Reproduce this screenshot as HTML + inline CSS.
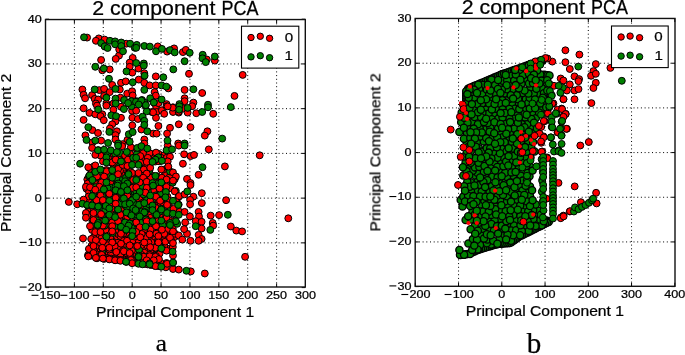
<!DOCTYPE html>
<html><head><meta charset="utf-8"><style>
html,body{margin:0;padding:0;background:#fff;overflow:hidden;}
svg{display:block;}
text{font-family:'Liberation Sans', sans-serif;fill:#000;stroke:#000;stroke-width:0.25px;}
.grid{stroke:#000;stroke-width:1;stroke-dasharray:1 2.7;}
.tick{stroke:#000;stroke-width:1;}
.spine{fill:none;stroke:#111;stroke-width:1.4;}
</style></head><body>
<svg width="685" height="355" viewBox="0 0 685 355">
<defs><filter id="gs" x="-10%" y="-30%" width="120%" height="160%"><feColorMatrix type="saturate" values="0"/></filter></defs>
<rect width="685" height="355" fill="#fff"/>
<line x1="74.39" y1="287.0" x2="74.39" y2="19.55" class="grid"/>
<line x1="103.28" y1="287.0" x2="103.28" y2="19.55" class="grid"/>
<line x1="132.17" y1="287.0" x2="132.17" y2="19.55" class="grid"/>
<line x1="161.06" y1="287.0" x2="161.06" y2="19.55" class="grid"/>
<line x1="189.94" y1="287.0" x2="189.94" y2="19.55" class="grid"/>
<line x1="218.83" y1="287.0" x2="218.83" y2="19.55" class="grid"/>
<line x1="247.72" y1="287.0" x2="247.72" y2="19.55" class="grid"/>
<line x1="276.61" y1="287.0" x2="276.61" y2="19.55" class="grid"/>
<line x1="45.5" y1="242.87" x2="305.3" y2="242.87" class="grid"/>
<line x1="45.5" y1="198.13" x2="305.3" y2="198.13" class="grid"/>
<line x1="45.5" y1="153.40" x2="305.3" y2="153.40" class="grid"/>
<line x1="45.5" y1="108.67" x2="305.3" y2="108.67" class="grid"/>
<line x1="45.5" y1="63.93" x2="305.3" y2="63.93" class="grid"/>
<g stroke="#000" stroke-width="1.0"><circle cx="148.7" cy="249.8" r="3.45" fill="#ff0000"/>
<circle cx="142.8" cy="242.5" r="3.45" fill="#ff0000"/>
<circle cx="166.2" cy="224.8" r="3.45" fill="#ff0000"/>
<circle cx="125.4" cy="236.0" r="3.45" fill="#ff0000"/>
<circle cx="91.7" cy="245.5" r="3.45" fill="#ff0000"/>
<circle cx="158.6" cy="153.9" r="3.45" fill="#ff0000"/>
<circle cx="154.9" cy="237.4" r="3.45" fill="#ff0000"/>
<circle cx="136.3" cy="176.1" r="3.45" fill="#ff0000"/>
<circle cx="98.2" cy="253.3" r="3.45" fill="#ff0000"/>
<circle cx="117.0" cy="240.1" r="3.45" fill="#ff0000"/>
<circle cx="110.6" cy="195.4" r="3.45" fill="#ff0000"/>
<circle cx="120.2" cy="163.4" r="3.45" fill="#ff0000"/>
<circle cx="116.9" cy="236.3" r="3.45" fill="#ff0000"/>
<circle cx="141.2" cy="262.3" r="3.45" fill="#ff0000"/>
<circle cx="117.2" cy="254.0" r="3.45" fill="#ff0000"/>
<circle cx="102.7" cy="250.7" r="3.45" fill="#ff0000"/>
<circle cx="164.8" cy="246.9" r="3.45" fill="#ff0000"/>
<circle cx="154.8" cy="255.5" r="3.45" fill="#ff0000"/>
<circle cx="148.6" cy="183.6" r="3.45" fill="#ff0000"/>
<circle cx="86.5" cy="188.8" r="3.45" fill="#ff0000"/>
<circle cx="114.9" cy="257.8" r="3.45" fill="#ff0000"/>
<circle cx="144.2" cy="203.6" r="3.45" fill="#ff0000"/>
<circle cx="138.2" cy="200.8" r="3.45" fill="#ff0000"/>
<circle cx="164.5" cy="212.1" r="3.45" fill="#ff0000"/>
<circle cx="95.6" cy="178.6" r="3.45" fill="#ff0000"/>
<circle cx="98.1" cy="232.9" r="3.45" fill="#ff0000"/>
<circle cx="125.6" cy="245.8" r="3.45" fill="#ff0000"/>
<circle cx="128.4" cy="258.8" r="3.45" fill="#ff0000"/>
<circle cx="158.6" cy="178.4" r="3.45" fill="#ff0000"/>
<circle cx="105.0" cy="221.9" r="3.45" fill="#ff0000"/>
<circle cx="92.1" cy="230.0" r="3.45" fill="#ff0000"/>
<circle cx="156.1" cy="190.9" r="3.45" fill="#ff0000"/>
<circle cx="127.0" cy="233.6" r="3.45" fill="#ff0000"/>
<circle cx="163.9" cy="230.0" r="3.45" fill="#ff0000"/>
<circle cx="135.5" cy="246.7" r="3.45" fill="#ff0000"/>
<circle cx="118.2" cy="234.2" r="3.45" fill="#ff0000"/>
<circle cx="150.2" cy="246.6" r="3.45" fill="#ff0000"/>
<circle cx="158.9" cy="203.3" r="3.45" fill="#ff0000"/>
<circle cx="149.0" cy="162.8" r="3.45" fill="#ff0000"/>
<circle cx="143.4" cy="259.1" r="3.45" fill="#ff0000"/>
<circle cx="112.6" cy="242.6" r="3.45" fill="#ff0000"/>
<circle cx="97.1" cy="237.6" r="3.45" fill="#ff0000"/>
<circle cx="114.6" cy="171.6" r="3.45" fill="#ff0000"/>
<circle cx="150.6" cy="159.9" r="3.45" fill="#ff0000"/>
<circle cx="144.2" cy="245.8" r="3.45" fill="#ff0000"/>
<circle cx="109.2" cy="224.6" r="3.45" fill="#ff0000"/>
<circle cx="154.2" cy="205.3" r="3.45" fill="#ff0000"/>
<circle cx="174.7" cy="179.3" r="3.45" fill="#ff0000"/>
<circle cx="161.9" cy="240.9" r="3.45" fill="#ff0000"/>
<circle cx="136.9" cy="209.0" r="3.45" fill="#ff0000"/>
<circle cx="152.6" cy="233.7" r="3.45" fill="#ff0000"/>
<circle cx="105.6" cy="159.8" r="3.45" fill="#ff0000"/>
<circle cx="101.0" cy="230.5" r="3.45" fill="#ff0000"/>
<circle cx="159.6" cy="253.5" r="3.45" fill="#ff0000"/>
<circle cx="110.6" cy="204.5" r="3.45" fill="#ff0000"/>
<circle cx="100.1" cy="248.7" r="3.45" fill="#ff0000"/>
<circle cx="113.5" cy="165.3" r="3.45" fill="#ff0000"/>
<circle cx="106.5" cy="170.0" r="3.45" fill="#ff0000"/>
<circle cx="119.4" cy="157.2" r="3.45" fill="#ff0000"/>
<circle cx="130.3" cy="238.0" r="3.45" fill="#ff0000"/>
<circle cx="138.6" cy="240.6" r="3.45" fill="#ff0000"/>
<circle cx="164.5" cy="238.4" r="3.45" fill="#ff0000"/>
<circle cx="111.9" cy="180.1" r="3.45" fill="#ff0000"/>
<circle cx="124.4" cy="212.1" r="3.45" fill="#ff0000"/>
<circle cx="148.6" cy="238.3" r="3.45" fill="#ff0000"/>
<circle cx="170.3" cy="220.7" r="3.45" fill="#ff0000"/>
<circle cx="88.7" cy="200.9" r="3.45" fill="#ff0000"/>
<circle cx="143.0" cy="198.9" r="3.45" fill="#ff0000"/>
<circle cx="123.3" cy="233.7" r="3.45" fill="#ff0000"/>
<circle cx="117.0" cy="229.7" r="3.45" fill="#ff0000"/>
<circle cx="130.3" cy="163.0" r="3.45" fill="#ff0000"/>
<circle cx="108.8" cy="193.1" r="3.45" fill="#ff0000"/>
<circle cx="152.2" cy="258.2" r="3.45" fill="#ff0000"/>
<circle cx="89.7" cy="168.3" r="3.45" fill="#ff0000"/>
<circle cx="151.4" cy="225.6" r="3.45" fill="#ff0000"/>
<circle cx="132.4" cy="240.6" r="3.45" fill="#ff0000"/>
<circle cx="129.6" cy="151.1" r="3.45" fill="#ff0000"/>
<circle cx="91.3" cy="169.8" r="3.45" fill="#ff0000"/>
<circle cx="138.6" cy="258.1" r="3.45" fill="#ff0000"/>
<circle cx="155.2" cy="220.3" r="3.45" fill="#ff0000"/>
<circle cx="143.4" cy="157.4" r="3.45" fill="#ff0000"/>
<circle cx="119.9" cy="201.2" r="3.45" fill="#ff0000"/>
<circle cx="141.1" cy="208.5" r="3.45" fill="#ff0000"/>
<circle cx="155.5" cy="161.5" r="3.45" fill="#ff0000"/>
<circle cx="134.6" cy="236.6" r="3.45" fill="#ff0000"/>
<circle cx="154.0" cy="245.2" r="3.45" fill="#ff0000"/>
<circle cx="129.8" cy="221.0" r="3.45" fill="#ff0000"/>
<circle cx="165.1" cy="174.0" r="3.45" fill="#ff0000"/>
<circle cx="174.7" cy="237.0" r="3.45" fill="#ff0000"/>
<circle cx="154.0" cy="228.1" r="3.45" fill="#ff0000"/>
<circle cx="106.6" cy="237.2" r="3.45" fill="#ff0000"/>
<circle cx="124.5" cy="171.9" r="3.45" fill="#ff0000"/>
<circle cx="101.7" cy="237.9" r="3.45" fill="#ff0000"/>
<circle cx="132.6" cy="158.2" r="3.45" fill="#ff0000"/>
<circle cx="120.5" cy="236.1" r="3.45" fill="#ff0000"/>
<circle cx="167.4" cy="196.6" r="3.45" fill="#ff0000"/>
<circle cx="121.9" cy="182.2" r="3.45" fill="#ff0000"/>
<circle cx="153.1" cy="176.0" r="3.45" fill="#ff0000"/>
<circle cx="171.7" cy="233.0" r="3.45" fill="#ff0000"/>
<circle cx="105.0" cy="234.0" r="3.45" fill="#ff0000"/>
<circle cx="129.0" cy="158.0" r="3.45" fill="#ff0000"/>
<circle cx="117.9" cy="249.7" r="3.45" fill="#ff0000"/>
<circle cx="116.1" cy="213.9" r="3.45" fill="#ff0000"/>
<circle cx="111.4" cy="162.8" r="3.45" fill="#ff0000"/>
<circle cx="157.6" cy="241.4" r="3.45" fill="#ff0000"/>
<circle cx="129.8" cy="179.8" r="3.45" fill="#ff0000"/>
<circle cx="170.2" cy="248.5" r="3.45" fill="#ff0000"/>
<circle cx="141.4" cy="215.5" r="3.45" fill="#ff0000"/>
<circle cx="120.4" cy="246.8" r="3.45" fill="#ff0000"/>
<circle cx="121.3" cy="228.7" r="3.45" fill="#ff0000"/>
<circle cx="163.1" cy="169.7" r="3.45" fill="#ff0000"/>
<circle cx="100.4" cy="155.5" r="3.45" fill="#ff0000"/>
<circle cx="157.1" cy="216.2" r="3.45" fill="#ff0000"/>
<circle cx="147.8" cy="158.0" r="3.45" fill="#ff0000"/>
<circle cx="163.2" cy="202.7" r="3.45" fill="#ff0000"/>
<circle cx="122.9" cy="215.5" r="3.45" fill="#ff0000"/>
<circle cx="123.8" cy="175.7" r="3.45" fill="#ff0000"/>
<circle cx="174.8" cy="220.6" r="3.45" fill="#ff0000"/>
<circle cx="126.7" cy="226.0" r="3.45" fill="#ff0000"/>
<circle cx="120.5" cy="196.8" r="3.45" fill="#ff0000"/>
<circle cx="96.9" cy="228.7" r="3.45" fill="#ff0000"/>
<circle cx="111.3" cy="245.7" r="3.45" fill="#ff0000"/>
<circle cx="138.9" cy="153.8" r="3.45" fill="#ff0000"/>
<circle cx="90.8" cy="213.2" r="3.45" fill="#ff0000"/>
<circle cx="147.5" cy="259.4" r="3.45" fill="#ff0000"/>
<circle cx="130.5" cy="171.9" r="3.45" fill="#ff0000"/>
<circle cx="175.1" cy="233.8" r="3.45" fill="#ff0000"/>
<circle cx="179.4" cy="211.8" r="3.45" fill="#ff0000"/>
<circle cx="155.8" cy="188.5" r="3.45" fill="#ff0000"/>
<circle cx="150.7" cy="184.1" r="3.45" fill="#ff0000"/>
<circle cx="89.0" cy="208.4" r="3.45" fill="#ff0000"/>
<circle cx="108.1" cy="157.6" r="3.45" fill="#ff0000"/>
<circle cx="143.7" cy="167.7" r="3.45" fill="#ff0000"/>
<circle cx="158.2" cy="158.3" r="3.45" fill="#ff0000"/>
<circle cx="139.7" cy="230.3" r="3.45" fill="#ff0000"/>
<circle cx="146.1" cy="261.1" r="3.45" fill="#ff0000"/>
<circle cx="142.2" cy="250.2" r="3.45" fill="#ff0000"/>
<circle cx="100.3" cy="246.1" r="3.45" fill="#ff0000"/>
<circle cx="95.6" cy="246.2" r="3.45" fill="#ff0000"/>
<circle cx="90.4" cy="215.3" r="3.45" fill="#ff0000"/>
<circle cx="170.2" cy="188.2" r="3.45" fill="#ff0000"/>
<circle cx="159.8" cy="229.9" r="3.45" fill="#ff0000"/>
<circle cx="132.0" cy="257.5" r="3.45" fill="#ff0000"/>
<circle cx="148.4" cy="217.5" r="3.45" fill="#ff0000"/>
<circle cx="99.6" cy="217.2" r="3.45" fill="#ff0000"/>
<circle cx="129.6" cy="245.6" r="3.45" fill="#ff0000"/>
<circle cx="100.8" cy="180.0" r="3.45" fill="#ff0000"/>
<circle cx="168.7" cy="205.2" r="3.45" fill="#ff0000"/>
<circle cx="137.9" cy="234.0" r="3.45" fill="#ff0000"/>
<circle cx="123.8" cy="240.9" r="3.45" fill="#ff0000"/>
<circle cx="97.9" cy="225.6" r="3.45" fill="#ff0000"/>
<circle cx="112.2" cy="211.6" r="3.45" fill="#ff0000"/>
<circle cx="110.1" cy="229.5" r="3.45" fill="#ff0000"/>
<circle cx="113.4" cy="184.9" r="3.45" fill="#ff0000"/>
<circle cx="99.7" cy="242.1" r="3.45" fill="#ff0000"/>
<circle cx="172.8" cy="228.5" r="3.45" fill="#ff0000"/>
<circle cx="161.5" cy="218.0" r="3.45" fill="#ff0000"/>
<circle cx="118.7" cy="259.1" r="3.45" fill="#ff0000"/>
<circle cx="137.3" cy="184.8" r="3.45" fill="#ff0000"/>
<circle cx="148.1" cy="233.9" r="3.45" fill="#ff0000"/>
<circle cx="148.9" cy="221.6" r="3.45" fill="#ff0000"/>
<circle cx="107.0" cy="255.0" r="3.45" fill="#ff0000"/>
<circle cx="93.5" cy="166.6" r="3.45" fill="#ff0000"/>
<circle cx="110.1" cy="182.8" r="3.45" fill="#ff0000"/>
<circle cx="100.9" cy="186.8" r="3.45" fill="#ff0000"/>
<circle cx="151.2" cy="242.2" r="3.45" fill="#ff0000"/>
<circle cx="150.9" cy="250.4" r="3.45" fill="#ff0000"/>
<circle cx="145.5" cy="163.8" r="3.45" fill="#ff0000"/>
<circle cx="152.4" cy="208.5" r="3.45" fill="#ff0000"/>
<circle cx="92.5" cy="254.7" r="3.45" fill="#ff0000"/>
<circle cx="135.1" cy="253.7" r="3.45" fill="#ff0000"/>
<circle cx="144.3" cy="252.8" r="3.45" fill="#ff0000"/>
<circle cx="135.3" cy="163.2" r="3.45" fill="#ff0000"/>
<circle cx="165.4" cy="241.6" r="3.45" fill="#ff0000"/>
<circle cx="93.4" cy="237.5" r="3.45" fill="#ff0000"/>
<circle cx="156.4" cy="226.4" r="3.45" fill="#ff0000"/>
<circle cx="158.5" cy="238.8" r="3.45" fill="#ff0000"/>
<circle cx="156.3" cy="233.7" r="3.45" fill="#ff0000"/>
<circle cx="151.4" cy="215.2" r="3.45" fill="#ff0000"/>
<circle cx="110.4" cy="238.0" r="3.45" fill="#ff0000"/>
<circle cx="94.1" cy="173.6" r="3.45" fill="#ff0000"/>
<circle cx="117.7" cy="193.1" r="3.45" fill="#ff0000"/>
<circle cx="136.7" cy="157.4" r="3.45" fill="#ff0000"/>
<circle cx="146.1" cy="178.4" r="3.45" fill="#ff0000"/>
<circle cx="146.2" cy="168.0" r="3.45" fill="#ff0000"/>
<circle cx="132.1" cy="199.8" r="3.45" fill="#ff0000"/>
<circle cx="172.8" cy="247.0" r="3.45" fill="#ff0000"/>
<circle cx="93.9" cy="241.5" r="3.45" fill="#ff0000"/>
<circle cx="148.7" cy="211.5" r="3.45" fill="#ff0000"/>
<circle cx="158.8" cy="220.0" r="3.45" fill="#ff0000"/>
<circle cx="93.6" cy="250.4" r="3.45" fill="#ff0000"/>
<circle cx="97.8" cy="184.2" r="3.45" fill="#ff0000"/>
<circle cx="159.7" cy="246.6" r="3.45" fill="#ff0000"/>
<circle cx="130.0" cy="153.9" r="3.45" fill="#ff0000"/>
<circle cx="164.2" cy="155.2" r="3.45" fill="#ff0000"/>
<circle cx="126.2" cy="253.0" r="3.45" fill="#ff0000"/>
<circle cx="155.5" cy="180.7" r="3.45" fill="#ff0000"/>
<circle cx="124.8" cy="167.6" r="3.45" fill="#ff0000"/>
<circle cx="108.0" cy="233.7" r="3.45" fill="#ff0000"/>
<circle cx="164.5" cy="221.4" r="3.45" fill="#ff0000"/>
<circle cx="150.3" cy="255.1" r="3.45" fill="#ff0000"/>
<circle cx="162.3" cy="248.8" r="3.45" fill="#ff0000"/>
<circle cx="125.4" cy="230.3" r="3.45" fill="#ff0000"/>
<circle cx="141.4" cy="237.5" r="3.45" fill="#ff0000"/>
<circle cx="110.7" cy="254.8" r="3.45" fill="#ff0000"/>
<circle cx="114.9" cy="162.8" r="3.45" fill="#ff0000"/>
<circle cx="151.0" cy="195.2" r="3.45" fill="#ff0000"/>
<circle cx="135.1" cy="188.9" r="3.45" fill="#ff0000"/>
<circle cx="144.8" cy="229.2" r="3.45" fill="#ff0000"/>
<circle cx="123.1" cy="250.3" r="3.45" fill="#ff0000"/>
<circle cx="140.2" cy="162.6" r="3.45" fill="#ff0000"/>
<circle cx="111.2" cy="221.5" r="3.45" fill="#ff0000"/>
<circle cx="107.6" cy="214.0" r="3.45" fill="#ff0000"/>
<circle cx="166.9" cy="232.5" r="3.45" fill="#ff0000"/>
<circle cx="136.7" cy="149.0" r="3.45" fill="#ff0000"/>
<circle cx="134.6" cy="230.3" r="3.45" fill="#ff0000"/>
<circle cx="134.1" cy="261.0" r="3.45" fill="#ff0000"/>
<circle cx="114.9" cy="159.5" r="3.45" fill="#ff0000"/>
<circle cx="153.8" cy="262.6" r="3.45" fill="#ff0000"/>
<circle cx="143.3" cy="224.1" r="3.45" fill="#ff0000"/>
<circle cx="148.5" cy="242.5" r="3.45" fill="#ff0000"/>
<circle cx="124.1" cy="259.5" r="3.45" fill="#ff0000"/>
<circle cx="118.8" cy="175.2" r="3.45" fill="#ff0000"/>
<circle cx="131.8" cy="250.9" r="3.45" fill="#ff0000"/>
<circle cx="127.0" cy="240.8" r="3.45" fill="#ff0000"/>
<circle cx="132.0" cy="217.0" r="3.45" fill="#ff0000"/>
<circle cx="143.0" cy="190.8" r="3.45" fill="#ff0000"/>
<circle cx="130.1" cy="254.5" r="3.45" fill="#ff0000"/>
<circle cx="160.8" cy="157.7" r="3.45" fill="#ff0000"/>
<circle cx="93.3" cy="208.3" r="3.45" fill="#ff0000"/>
<circle cx="119.5" cy="220.3" r="3.45" fill="#ff0000"/>
<circle cx="125.9" cy="163.4" r="3.45" fill="#ff0000"/>
<circle cx="111.7" cy="153.0" r="3.45" fill="#ff0000"/>
<circle cx="114.6" cy="250.1" r="3.45" fill="#ff0000"/>
<circle cx="105.6" cy="229.7" r="3.45" fill="#ff0000"/>
<circle cx="94.0" cy="182.9" r="3.45" fill="#ff0000"/>
<circle cx="160.7" cy="262.9" r="3.45" fill="#ff0000"/>
<circle cx="95.2" cy="232.1" r="3.45" fill="#ff0000"/>
<circle cx="105.4" cy="242.7" r="3.45" fill="#ff0000"/>
<circle cx="168.8" cy="236.8" r="3.45" fill="#ff0000"/>
<circle cx="167.8" cy="229.0" r="3.45" fill="#ff0000"/>
<circle cx="159.1" cy="161.3" r="3.45" fill="#ff0000"/>
<circle cx="150.5" cy="229.6" r="3.45" fill="#ff0000"/>
<circle cx="103.0" cy="184.7" r="3.45" fill="#ff0000"/>
<circle cx="135.8" cy="178.6" r="3.45" fill="#ff0000"/>
<circle cx="126.3" cy="221.9" r="3.45" fill="#ff0000"/>
<circle cx="109.9" cy="242.8" r="3.45" fill="#ff0000"/>
<circle cx="127.8" cy="174.6" r="3.45" fill="#ff0000"/>
<circle cx="156.0" cy="257.3" r="3.45" fill="#ff0000"/>
<circle cx="141.4" cy="254.9" r="3.45" fill="#ff0000"/>
<circle cx="124.1" cy="159.2" r="3.45" fill="#ff0000"/>
<circle cx="156.1" cy="199.0" r="3.45" fill="#ff0000"/>
<circle cx="98.3" cy="150.1" r="3.45" fill="#ff0000"/>
<circle cx="107.8" cy="245.3" r="3.45" fill="#ff0000"/>
<circle cx="131.8" cy="175.8" r="3.45" fill="#ff0000"/>
<circle cx="126.8" cy="154.7" r="3.45" fill="#ff0000"/>
<circle cx="161.5" cy="234.1" r="3.45" fill="#ff0000"/>
<circle cx="149.4" cy="261.3" r="3.45" fill="#ff0000"/>
<circle cx="114.7" cy="246.4" r="3.45" fill="#ff0000"/>
<circle cx="106.5" cy="178.9" r="3.45" fill="#ff0000"/>
<circle cx="114.9" cy="208.7" r="3.45" fill="#ff0000"/>
<circle cx="120.5" cy="254.3" r="3.45" fill="#ff0000"/>
<circle cx="156.3" cy="208.1" r="3.45" fill="#ff0000"/>
<circle cx="168.0" cy="200.1" r="3.45" fill="#ff0000"/>
<circle cx="109.4" cy="249.5" r="3.45" fill="#ff0000"/>
<circle cx="163.1" cy="187.6" r="3.45" fill="#ff0000"/>
<circle cx="153.5" cy="191.2" r="3.45" fill="#ff0000"/>
<circle cx="93.8" cy="217.1" r="3.45" fill="#ff0000"/>
<circle cx="133.3" cy="226.0" r="3.45" fill="#ff0000"/>
<circle cx="143.4" cy="183.8" r="3.45" fill="#ff0000"/>
<circle cx="145.8" cy="237.1" r="3.45" fill="#ff0000"/>
<circle cx="141.7" cy="234.0" r="3.45" fill="#ff0000"/>
<circle cx="129.1" cy="261.5" r="3.45" fill="#ff0000"/>
<circle cx="102.9" cy="221.7" r="3.45" fill="#ff0000"/>
<circle cx="170.1" cy="176.1" r="3.45" fill="#ff0000"/>
<circle cx="145.9" cy="171.6" r="3.45" fill="#ff0000"/>
<circle cx="109.2" cy="216.5" r="3.45" fill="#ff0000"/>
<circle cx="139.8" cy="196.8" r="3.45" fill="#ff0000"/>
<circle cx="120.0" cy="170.9" r="3.45" fill="#ff0000"/>
<circle cx="127.3" cy="216.9" r="3.45" fill="#ff0000"/>
<circle cx="89.0" cy="192.1" r="3.45" fill="#ff0000"/>
<circle cx="95.5" cy="200.9" r="3.45" fill="#ff0000"/>
<circle cx="88.5" cy="196.6" r="3.45" fill="#ff0000"/>
<circle cx="154.6" cy="155.7" r="3.45" fill="#ff0000"/>
<circle cx="87.3" cy="179.4" r="3.45" fill="#ff0000"/>
<circle cx="123.0" cy="209.4" r="3.45" fill="#ff0000"/>
<circle cx="157.2" cy="176.3" r="3.45" fill="#ff0000"/>
<circle cx="146.2" cy="175.2" r="3.45" fill="#ff0000"/>
<circle cx="119.6" cy="226.2" r="3.45" fill="#ff0000"/>
<circle cx="119.9" cy="213.4" r="3.45" fill="#ff0000"/>
<circle cx="171.2" cy="240.5" r="3.45" fill="#ff0000"/>
<circle cx="151.0" cy="177.8" r="3.45" fill="#ff0000"/>
<circle cx="166.8" cy="157.7" r="3.45" fill="#ff0000"/>
<circle cx="141.1" cy="245.5" r="3.45" fill="#ff0000"/>
<circle cx="166.4" cy="182.9" r="3.45" fill="#ff0000"/>
<circle cx="178.4" cy="197.3" r="3.45" fill="#ff0000"/>
<circle cx="142.9" cy="175.8" r="3.45" fill="#ff0000"/>
<circle cx="176.0" cy="201.0" r="3.45" fill="#ff0000"/>
<circle cx="133.6" cy="234.5" r="3.45" fill="#ff0000"/>
<circle cx="149.4" cy="170.5" r="3.45" fill="#008000"/>
<circle cx="126.1" cy="188.7" r="3.45" fill="#008000"/>
<circle cx="141.4" cy="211.6" r="3.45" fill="#008000"/>
<circle cx="93.2" cy="204.0" r="3.45" fill="#008000"/>
<circle cx="115.1" cy="153.8" r="3.45" fill="#008000"/>
<circle cx="133.0" cy="208.0" r="3.45" fill="#008000"/>
<circle cx="112.3" cy="174.5" r="3.45" fill="#008000"/>
<circle cx="87.5" cy="205.5" r="3.45" fill="#008000"/>
<circle cx="102.4" cy="252.6" r="3.45" fill="#008000"/>
<circle cx="112.8" cy="233.0" r="3.45" fill="#008000"/>
<circle cx="115.2" cy="202.7" r="3.45" fill="#008000"/>
<circle cx="90.8" cy="180.0" r="3.45" fill="#008000"/>
<circle cx="132.2" cy="183.4" r="3.45" fill="#008000"/>
<circle cx="89.6" cy="182.8" r="3.45" fill="#008000"/>
<circle cx="145.9" cy="209.4" r="3.45" fill="#008000"/>
<circle cx="125.9" cy="177.8" r="3.45" fill="#008000"/>
<circle cx="133.4" cy="193.0" r="3.45" fill="#008000"/>
<circle cx="106.1" cy="203.1" r="3.45" fill="#008000"/>
<circle cx="160.7" cy="196.2" r="3.45" fill="#008000"/>
<circle cx="98.2" cy="196.6" r="3.45" fill="#008000"/>
<circle cx="149.8" cy="153.3" r="3.45" fill="#008000"/>
<circle cx="147.1" cy="223.5" r="3.45" fill="#008000"/>
<circle cx="161.9" cy="199.5" r="3.45" fill="#008000"/>
<circle cx="164.7" cy="195.3" r="3.45" fill="#008000"/>
<circle cx="111.0" cy="187.6" r="3.45" fill="#008000"/>
<circle cx="144.9" cy="212.0" r="3.45" fill="#008000"/>
<circle cx="148.0" cy="191.7" r="3.45" fill="#008000"/>
<circle cx="131.7" cy="227.7" r="3.45" fill="#008000"/>
<circle cx="107.7" cy="174.8" r="3.45" fill="#008000"/>
<circle cx="128.1" cy="200.7" r="3.45" fill="#008000"/>
<circle cx="166.3" cy="206.9" r="3.45" fill="#008000"/>
<circle cx="178.7" cy="204.6" r="3.45" fill="#008000"/>
<circle cx="169.1" cy="212.7" r="3.45" fill="#008000"/>
<circle cx="124.8" cy="205.1" r="3.45" fill="#008000"/>
<circle cx="149.1" cy="204.4" r="3.45" fill="#008000"/>
<circle cx="160.2" cy="211.4" r="3.45" fill="#008000"/>
<circle cx="114.7" cy="226.2" r="3.45" fill="#008000"/>
<circle cx="98.8" cy="199.5" r="3.45" fill="#008000"/>
<circle cx="104.1" cy="173.6" r="3.45" fill="#008000"/>
<circle cx="106.0" cy="194.9" r="3.45" fill="#008000"/>
<circle cx="143.5" cy="194.5" r="3.45" fill="#008000"/>
<circle cx="129.2" cy="203.0" r="3.45" fill="#008000"/>
<circle cx="92.5" cy="221.8" r="3.45" fill="#008000"/>
<circle cx="88.9" cy="176.5" r="3.45" fill="#008000"/>
<circle cx="160.7" cy="186.8" r="3.45" fill="#008000"/>
<circle cx="155.7" cy="195.4" r="3.45" fill="#008000"/>
<circle cx="160.3" cy="184.7" r="3.45" fill="#008000"/>
<circle cx="117.5" cy="209.2" r="3.45" fill="#008000"/>
<circle cx="107.7" cy="188.3" r="3.45" fill="#008000"/>
<circle cx="112.3" cy="200.2" r="3.45" fill="#008000"/>
<circle cx="139.0" cy="249.8" r="3.45" fill="#008000"/>
<circle cx="127.1" cy="207.5" r="3.45" fill="#008000"/>
<circle cx="137.1" cy="223.8" r="3.45" fill="#008000"/>
<circle cx="99.2" cy="175.1" r="3.45" fill="#008000"/>
<circle cx="114.9" cy="215.6" r="3.45" fill="#008000"/>
<circle cx="130.1" cy="197.1" r="3.45" fill="#008000"/>
<circle cx="104.9" cy="198.8" r="3.45" fill="#008000"/>
<circle cx="122.1" cy="224.1" r="3.45" fill="#008000"/>
<circle cx="136.2" cy="211.4" r="3.45" fill="#008000"/>
<circle cx="91.9" cy="186.5" r="3.45" fill="#008000"/>
<circle cx="119.0" cy="215.2" r="3.45" fill="#008000"/>
<circle cx="95.6" cy="170.0" r="3.45" fill="#008000"/>
<circle cx="99.5" cy="191.4" r="3.45" fill="#008000"/>
<circle cx="104.7" cy="225.7" r="3.45" fill="#008000"/>
<circle cx="134.9" cy="197.1" r="3.45" fill="#008000"/>
<circle cx="140.0" cy="179.2" r="3.45" fill="#008000"/>
<circle cx="152.8" cy="199.1" r="3.45" fill="#008000"/>
<circle cx="120.2" cy="180.0" r="3.45" fill="#008000"/>
<circle cx="135.5" cy="204.6" r="3.45" fill="#008000"/>
<circle cx="140.5" cy="222.2" r="3.45" fill="#008000"/>
<circle cx="93.3" cy="190.4" r="3.45" fill="#008000"/>
<circle cx="102.2" cy="195.5" r="3.45" fill="#008000"/>
<circle cx="93.4" cy="195.4" r="3.45" fill="#008000"/>
<circle cx="107.4" cy="154.0" r="3.45" fill="#008000"/>
<circle cx="107.6" cy="209.6" r="3.45" fill="#008000"/>
<circle cx="102.0" cy="204.6" r="3.45" fill="#008000"/>
<circle cx="102.6" cy="215.3" r="3.45" fill="#008000"/>
<circle cx="136.3" cy="191.2" r="3.45" fill="#008000"/>
<circle cx="155.0" cy="213.7" r="3.45" fill="#008000"/>
<circle cx="94.0" cy="223.9" r="3.45" fill="#008000"/>
<circle cx="101.3" cy="213.9" r="3.45" fill="#008000"/>
<circle cx="150.0" cy="186.1" r="3.45" fill="#008000"/>
<circle cx="125.5" cy="194.5" r="3.45" fill="#008000"/>
<circle cx="101.1" cy="171.7" r="3.45" fill="#008000"/>
<circle cx="172.7" cy="182.7" r="3.45" fill="#008000"/>
<circle cx="129.8" cy="186.8" r="3.45" fill="#008000"/>
<circle cx="136.8" cy="154.2" r="3.45" fill="#008000"/>
<circle cx="146.0" cy="219.4" r="3.45" fill="#008000"/>
<circle cx="165.6" cy="190.9" r="3.45" fill="#008000"/>
<circle cx="121.4" cy="203.3" r="3.45" fill="#008000"/>
<circle cx="146.7" cy="200.2" r="3.45" fill="#008000"/>
<circle cx="177.2" cy="223.8" r="3.45" fill="#008000"/>
<circle cx="97.7" cy="205.5" r="3.45" fill="#008000"/>
<circle cx="145.5" cy="188.8" r="3.45" fill="#008000"/>
<circle cx="119.9" cy="153.1" r="3.45" fill="#008000"/>
<circle cx="126.9" cy="166.1" r="3.45" fill="#008000"/>
<circle cx="122.6" cy="198.8" r="3.45" fill="#008000"/>
<circle cx="115.3" cy="219.6" r="3.45" fill="#008000"/>
<circle cx="115.0" cy="197.3" r="3.45" fill="#008000"/>
<circle cx="127.5" cy="184.7" r="3.45" fill="#008000"/>
<circle cx="122.7" cy="190.3" r="3.45" fill="#008000"/>
<circle cx="136.6" cy="218.0" r="3.45" fill="#008000"/>
<circle cx="118.9" cy="166.8" r="3.45" fill="#008000"/>
<circle cx="95.7" cy="187.1" r="3.45" fill="#008000"/>
<circle cx="128.6" cy="191.5" r="3.45" fill="#008000"/>
<circle cx="157.7" cy="183.8" r="3.45" fill="#008000"/>
<circle cx="100.7" cy="207.4" r="3.45" fill="#008000"/>
<circle cx="161.5" cy="208.8" r="3.45" fill="#008000"/>
<circle cx="163.2" cy="179.5" r="3.45" fill="#008000"/>
<circle cx="126.8" cy="250.1" r="3.45" fill="#008000"/>
<circle cx="136.2" cy="220.9" r="3.45" fill="#008000"/>
<circle cx="96.3" cy="220.2" r="3.45" fill="#008000"/>
<circle cx="109.7" cy="199.3" r="3.45" fill="#008000"/>
<circle cx="165.7" cy="217.9" r="3.45" fill="#008000"/>
<circle cx="96.9" cy="211.2" r="3.45" fill="#008000"/>
<circle cx="175.8" cy="190.9" r="3.45" fill="#008000"/>
<circle cx="155.9" cy="248.5" r="3.45" fill="#008000"/>
<circle cx="161.1" cy="193.1" r="3.45" fill="#008000"/>
<circle cx="139.1" cy="204.8" r="3.45" fill="#008000"/>
<circle cx="167.8" cy="167.2" r="3.45" fill="#008000"/>
<circle cx="115.6" cy="186.3" r="3.45" fill="#008000"/>
<circle cx="122.3" cy="186.4" r="3.45" fill="#008000"/>
<circle cx="118.1" cy="183.2" r="3.45" fill="#008000"/>
<circle cx="170.0" cy="171.5" r="3.45" fill="#008000"/>
<circle cx="129.5" cy="213.7" r="3.45" fill="#008000"/>
<circle cx="116.5" cy="178.0" r="3.45" fill="#008000"/>
<circle cx="162.8" cy="225.3" r="3.45" fill="#008000"/>
<circle cx="114.9" cy="191.7" r="3.45" fill="#008000"/>
<circle cx="141.2" cy="186.1" r="3.45" fill="#008000"/>
<circle cx="105.4" cy="209.8" r="3.45" fill="#008000"/>
<circle cx="104.4" cy="190.3" r="3.45" fill="#008000"/>
<circle cx="170.5" cy="209.1" r="3.45" fill="#008000"/>
<circle cx="88.1" cy="254.9" r="3.45" fill="#ff0000"/>
<circle cx="91.4" cy="255.5" r="3.45" fill="#008000"/>
<circle cx="94.7" cy="256.0" r="3.45" fill="#008000"/>
<circle cx="98.0" cy="256.5" r="3.45" fill="#ff0000"/>
<circle cx="101.3" cy="257.1" r="3.45" fill="#ff0000"/>
<circle cx="104.6" cy="257.6" r="3.45" fill="#ff0000"/>
<circle cx="107.9" cy="258.1" r="3.45" fill="#ff0000"/>
<circle cx="111.2" cy="258.6" r="3.45" fill="#ff0000"/>
<circle cx="114.4" cy="259.2" r="3.45" fill="#ff0000"/>
<circle cx="117.7" cy="259.7" r="3.45" fill="#ff0000"/>
<circle cx="121.0" cy="260.2" r="3.45" fill="#ff0000"/>
<circle cx="124.3" cy="260.7" r="3.45" fill="#ff0000"/>
<circle cx="127.6" cy="261.3" r="3.45" fill="#ff0000"/>
<circle cx="130.9" cy="261.8" r="3.45" fill="#ff0000"/>
<circle cx="134.2" cy="262.3" r="3.45" fill="#ff0000"/>
<circle cx="137.5" cy="262.9" r="3.45" fill="#ff0000"/>
<circle cx="140.8" cy="263.4" r="3.45" fill="#ff0000"/>
<circle cx="144.1" cy="263.9" r="3.45" fill="#008000"/>
<circle cx="147.4" cy="264.4" r="3.45" fill="#ff0000"/>
<circle cx="150.7" cy="265.0" r="3.45" fill="#ff0000"/>
<circle cx="154.0" cy="265.5" r="3.45" fill="#008000"/>
<circle cx="157.3" cy="266.0" r="3.45" fill="#ff0000"/>
<circle cx="160.6" cy="266.5" r="3.45" fill="#ff0000"/>
<circle cx="87.1" cy="37.6" r="3.45" fill="#ff0000"/>
<circle cx="98.8" cy="38.4" r="3.45" fill="#ff0000"/>
<circle cx="95.9" cy="40.8" r="3.45" fill="#ff0000"/>
<circle cx="104.6" cy="39.6" r="3.45" fill="#ff0000"/>
<circle cx="119.0" cy="55.6" r="3.45" fill="#ff0000"/>
<circle cx="115.7" cy="58.9" r="3.45" fill="#ff0000"/>
<circle cx="101.1" cy="60.0" r="3.45" fill="#ff0000"/>
<circle cx="132.7" cy="57.9" r="3.45" fill="#ff0000"/>
<circle cx="129.7" cy="62.6" r="3.45" fill="#ff0000"/>
<circle cx="126.2" cy="43.7" r="3.45" fill="#ff0000"/>
<circle cx="119.2" cy="49.5" r="3.45" fill="#ff0000"/>
<circle cx="157.8" cy="46.4" r="3.45" fill="#ff0000"/>
<circle cx="167.1" cy="51.6" r="3.45" fill="#ff0000"/>
<circle cx="174.1" cy="48.4" r="3.45" fill="#ff0000"/>
<circle cx="182.9" cy="52.1" r="3.45" fill="#ff0000"/>
<circle cx="185.8" cy="49.9" r="3.45" fill="#ff0000"/>
<circle cx="206.8" cy="59.5" r="3.45" fill="#ff0000"/>
<circle cx="214.8" cy="60.6" r="3.45" fill="#ff0000"/>
<circle cx="102.3" cy="70.3" r="3.45" fill="#ff0000"/>
<circle cx="109.7" cy="69.4" r="3.45" fill="#ff0000"/>
<circle cx="129.7" cy="66.8" r="3.45" fill="#ff0000"/>
<circle cx="132.3" cy="72.6" r="3.45" fill="#ff0000"/>
<circle cx="112.2" cy="84.9" r="3.45" fill="#ff0000"/>
<circle cx="121.0" cy="82.8" r="3.45" fill="#ff0000"/>
<circle cx="125.7" cy="81.4" r="3.45" fill="#ff0000"/>
<circle cx="82.4" cy="89.5" r="3.45" fill="#ff0000"/>
<circle cx="83.6" cy="94.8" r="3.45" fill="#ff0000"/>
<circle cx="85.1" cy="98.3" r="3.45" fill="#ff0000"/>
<circle cx="99.4" cy="90.1" r="3.45" fill="#ff0000"/>
<circle cx="104.1" cy="88.9" r="3.45" fill="#ff0000"/>
<circle cx="92.1" cy="95.1" r="3.45" fill="#ff0000"/>
<circle cx="94.7" cy="98.9" r="3.45" fill="#ff0000"/>
<circle cx="98.2" cy="99.5" r="3.45" fill="#ff0000"/>
<circle cx="109.7" cy="92.1" r="3.45" fill="#ff0000"/>
<circle cx="119.8" cy="89.5" r="3.45" fill="#ff0000"/>
<circle cx="104.1" cy="95.9" r="3.45" fill="#ff0000"/>
<circle cx="120.4" cy="97.7" r="3.45" fill="#ff0000"/>
<circle cx="127.2" cy="93.6" r="3.45" fill="#ff0000"/>
<circle cx="132.1" cy="91.3" r="3.45" fill="#ff0000"/>
<circle cx="132.7" cy="95.4" r="3.45" fill="#ff0000"/>
<circle cx="95.9" cy="103.5" r="3.45" fill="#ff0000"/>
<circle cx="106.4" cy="103.5" r="3.45" fill="#ff0000"/>
<circle cx="113.4" cy="103.5" r="3.45" fill="#ff0000"/>
<circle cx="128.6" cy="103.5" r="3.45" fill="#ff0000"/>
<circle cx="138.5" cy="68.5" r="3.45" fill="#ff0000"/>
<circle cx="189.0" cy="73.8" r="3.45" fill="#ff0000"/>
<circle cx="144.3" cy="73.2" r="3.45" fill="#ff0000"/>
<circle cx="155.8" cy="76.4" r="3.45" fill="#ff0000"/>
<circle cx="138.7" cy="79.6" r="3.45" fill="#ff0000"/>
<circle cx="144.3" cy="82.8" r="3.45" fill="#ff0000"/>
<circle cx="149.6" cy="85.4" r="3.45" fill="#ff0000"/>
<circle cx="155.8" cy="85.4" r="3.45" fill="#ff0000"/>
<circle cx="168.3" cy="88.4" r="3.45" fill="#ff0000"/>
<circle cx="184.6" cy="89.9" r="3.45" fill="#ff0000"/>
<circle cx="202.2" cy="93.0" r="3.45" fill="#ff0000"/>
<circle cx="154.6" cy="92.1" r="3.45" fill="#ff0000"/>
<circle cx="155.8" cy="95.6" r="3.45" fill="#ff0000"/>
<circle cx="184.6" cy="98.3" r="3.45" fill="#ff0000"/>
<circle cx="184.6" cy="101.2" r="3.45" fill="#ff0000"/>
<circle cx="193.4" cy="102.6" r="3.45" fill="#ff0000"/>
<circle cx="166.5" cy="104.1" r="3.45" fill="#ff0000"/>
<circle cx="242.7" cy="74.9" r="3.45" fill="#ff0000"/>
<circle cx="234.5" cy="95.9" r="3.45" fill="#ff0000"/>
<circle cx="97.0" cy="105.6" r="3.45" fill="#ff0000"/>
<circle cx="106.4" cy="105.6" r="3.45" fill="#ff0000"/>
<circle cx="83.6" cy="108.3" r="3.45" fill="#ff0000"/>
<circle cx="89.5" cy="112.9" r="3.45" fill="#ff0000"/>
<circle cx="95.3" cy="114.3" r="3.45" fill="#ff0000"/>
<circle cx="102.3" cy="114.3" r="3.45" fill="#ff0000"/>
<circle cx="100.5" cy="116.1" r="3.45" fill="#ff0000"/>
<circle cx="103.8" cy="120.2" r="3.45" fill="#ff0000"/>
<circle cx="83.6" cy="119.9" r="3.45" fill="#ff0000"/>
<circle cx="113.4" cy="109.7" r="3.45" fill="#ff0000"/>
<circle cx="121.0" cy="117.8" r="3.45" fill="#ff0000"/>
<circle cx="115.5" cy="121.4" r="3.45" fill="#ff0000"/>
<circle cx="121.0" cy="106.8" r="3.45" fill="#ff0000"/>
<circle cx="132.1" cy="110.8" r="3.45" fill="#ff0000"/>
<circle cx="112.2" cy="124.3" r="3.45" fill="#ff0000"/>
<circle cx="132.3" cy="117.8" r="3.45" fill="#ff0000"/>
<circle cx="132.3" cy="125.4" r="3.45" fill="#ff0000"/>
<circle cx="92.4" cy="130.1" r="3.45" fill="#ff0000"/>
<circle cx="98.0" cy="133.0" r="3.45" fill="#ff0000"/>
<circle cx="85.4" cy="135.4" r="3.45" fill="#ff0000"/>
<circle cx="101.1" cy="140.6" r="3.45" fill="#ff0000"/>
<circle cx="92.4" cy="142.4" r="3.45" fill="#ff0000"/>
<circle cx="109.9" cy="128.4" r="3.45" fill="#ff0000"/>
<circle cx="116.9" cy="131.3" r="3.45" fill="#ff0000"/>
<circle cx="115.5" cy="135.1" r="3.45" fill="#ff0000"/>
<circle cx="115.5" cy="139.5" r="3.45" fill="#ff0000"/>
<circle cx="127.4" cy="140.0" r="3.45" fill="#ff0000"/>
<circle cx="122.7" cy="144.1" r="3.45" fill="#ff0000"/>
<circle cx="156.0" cy="106.2" r="3.45" fill="#ff0000"/>
<circle cx="136.2" cy="110.8" r="3.45" fill="#ff0000"/>
<circle cx="151.9" cy="112.0" r="3.45" fill="#ff0000"/>
<circle cx="156.6" cy="112.0" r="3.45" fill="#ff0000"/>
<circle cx="161.9" cy="110.3" r="3.45" fill="#ff0000"/>
<circle cx="164.2" cy="113.8" r="3.45" fill="#ff0000"/>
<circle cx="166.5" cy="106.2" r="3.45" fill="#ff0000"/>
<circle cx="173.0" cy="107.3" r="3.45" fill="#ff0000"/>
<circle cx="173.0" cy="112.0" r="3.45" fill="#ff0000"/>
<circle cx="178.8" cy="112.6" r="3.45" fill="#ff0000"/>
<circle cx="183.5" cy="108.5" r="3.45" fill="#ff0000"/>
<circle cx="187.6" cy="112.6" r="3.45" fill="#ff0000"/>
<circle cx="192.2" cy="106.2" r="3.45" fill="#ff0000"/>
<circle cx="196.3" cy="113.2" r="3.45" fill="#ff0000"/>
<circle cx="213.2" cy="113.8" r="3.45" fill="#ff0000"/>
<circle cx="137.9" cy="119.0" r="3.45" fill="#ff0000"/>
<circle cx="156.0" cy="117.8" r="3.45" fill="#ff0000"/>
<circle cx="158.4" cy="126.0" r="3.45" fill="#ff0000"/>
<circle cx="170.0" cy="127.8" r="3.45" fill="#ff0000"/>
<circle cx="178.8" cy="124.3" r="3.45" fill="#ff0000"/>
<circle cx="190.5" cy="127.2" r="3.45" fill="#ff0000"/>
<circle cx="141.4" cy="129.5" r="3.45" fill="#ff0000"/>
<circle cx="153.1" cy="133.6" r="3.45" fill="#ff0000"/>
<circle cx="156.6" cy="133.6" r="3.45" fill="#ff0000"/>
<circle cx="167.1" cy="133.6" r="3.45" fill="#ff0000"/>
<circle cx="144.3" cy="139.5" r="3.45" fill="#ff0000"/>
<circle cx="144.3" cy="143.5" r="3.45" fill="#ff0000"/>
<circle cx="178.2" cy="143.5" r="3.45" fill="#ff0000"/>
<circle cx="207.4" cy="131.3" r="3.45" fill="#ff0000"/>
<circle cx="204.8" cy="135.6" r="3.45" fill="#ff0000"/>
<circle cx="92.1" cy="147.9" r="3.45" fill="#ff0000"/>
<circle cx="95.3" cy="154.9" r="3.45" fill="#ff0000"/>
<circle cx="122.2" cy="146.2" r="3.45" fill="#ff0000"/>
<circle cx="130.9" cy="147.3" r="3.45" fill="#ff0000"/>
<circle cx="102.9" cy="161.4" r="3.45" fill="#ff0000"/>
<circle cx="112.2" cy="162.5" r="3.45" fill="#ff0000"/>
<circle cx="115.7" cy="159.6" r="3.45" fill="#ff0000"/>
<circle cx="125.1" cy="155.5" r="3.45" fill="#ff0000"/>
<circle cx="128.0" cy="159.6" r="3.45" fill="#ff0000"/>
<circle cx="88.3" cy="167.2" r="3.45" fill="#ff0000"/>
<circle cx="95.3" cy="165.4" r="3.45" fill="#ff0000"/>
<circle cx="106.4" cy="171.3" r="3.45" fill="#ff0000"/>
<circle cx="118.1" cy="168.9" r="3.45" fill="#ff0000"/>
<circle cx="122.7" cy="164.9" r="3.45" fill="#ff0000"/>
<circle cx="127.4" cy="166.0" r="3.45" fill="#ff0000"/>
<circle cx="97.0" cy="176.5" r="3.45" fill="#ff0000"/>
<circle cx="104.1" cy="176.5" r="3.45" fill="#ff0000"/>
<circle cx="118.1" cy="174.2" r="3.45" fill="#ff0000"/>
<circle cx="132.1" cy="173.0" r="3.45" fill="#ff0000"/>
<circle cx="87.7" cy="183.5" r="3.45" fill="#ff0000"/>
<circle cx="101.7" cy="182.4" r="3.45" fill="#ff0000"/>
<circle cx="133.2" cy="180.0" r="3.45" fill="#ff0000"/>
<circle cx="143.2" cy="153.2" r="3.45" fill="#ff0000"/>
<circle cx="149.6" cy="153.2" r="3.45" fill="#ff0000"/>
<circle cx="156.0" cy="152.6" r="3.45" fill="#ff0000"/>
<circle cx="140.3" cy="156.1" r="3.45" fill="#ff0000"/>
<circle cx="167.7" cy="145.6" r="3.45" fill="#ff0000"/>
<circle cx="178.8" cy="145.6" r="3.45" fill="#ff0000"/>
<circle cx="184.1" cy="154.3" r="3.45" fill="#ff0000"/>
<circle cx="190.5" cy="156.1" r="3.45" fill="#ff0000"/>
<circle cx="194.0" cy="154.9" r="3.45" fill="#ff0000"/>
<circle cx="208.8" cy="149.4" r="3.45" fill="#ff0000"/>
<circle cx="170.0" cy="156.7" r="3.45" fill="#ff0000"/>
<circle cx="147.8" cy="157.8" r="3.45" fill="#ff0000"/>
<circle cx="146.7" cy="161.9" r="3.45" fill="#ff0000"/>
<circle cx="167.7" cy="161.4" r="3.45" fill="#ff0000"/>
<circle cx="168.3" cy="166.6" r="3.45" fill="#ff0000"/>
<circle cx="182.9" cy="163.7" r="3.45" fill="#ff0000"/>
<circle cx="143.8" cy="169.5" r="3.45" fill="#ff0000"/>
<circle cx="150.2" cy="167.8" r="3.45" fill="#ff0000"/>
<circle cx="161.3" cy="169.5" r="3.45" fill="#ff0000"/>
<circle cx="138.5" cy="173.0" r="3.45" fill="#ff0000"/>
<circle cx="146.7" cy="173.6" r="3.45" fill="#ff0000"/>
<circle cx="143.2" cy="177.7" r="3.45" fill="#ff0000"/>
<circle cx="161.9" cy="177.7" r="3.45" fill="#ff0000"/>
<circle cx="166.5" cy="179.5" r="3.45" fill="#ff0000"/>
<circle cx="173.0" cy="172.4" r="3.45" fill="#ff0000"/>
<circle cx="175.9" cy="176.5" r="3.45" fill="#ff0000"/>
<circle cx="173.0" cy="180.6" r="3.45" fill="#ff0000"/>
<circle cx="198.6" cy="174.8" r="3.45" fill="#ff0000"/>
<circle cx="139.7" cy="182.4" r="3.45" fill="#ff0000"/>
<circle cx="146.7" cy="181.8" r="3.45" fill="#ff0000"/>
<circle cx="187.0" cy="178.9" r="3.45" fill="#ff0000"/>
<circle cx="190.5" cy="183.0" r="3.45" fill="#ff0000"/>
<circle cx="259.7" cy="155.3" r="3.45" fill="#ff0000"/>
<circle cx="224.9" cy="166.4" r="3.45" fill="#ff0000"/>
<circle cx="68.8" cy="201.9" r="3.45" fill="#ff0000"/>
<circle cx="77.2" cy="204.3" r="3.45" fill="#ff0000"/>
<circle cx="85.9" cy="186.8" r="3.45" fill="#ff0000"/>
<circle cx="90.0" cy="187.3" r="3.45" fill="#ff0000"/>
<circle cx="99.4" cy="186.8" r="3.45" fill="#ff0000"/>
<circle cx="95.3" cy="189.7" r="3.45" fill="#ff0000"/>
<circle cx="132.1" cy="187.9" r="3.45" fill="#ff0000"/>
<circle cx="83.6" cy="199.6" r="3.45" fill="#ff0000"/>
<circle cx="100.5" cy="195.5" r="3.45" fill="#ff0000"/>
<circle cx="109.3" cy="193.8" r="3.45" fill="#ff0000"/>
<circle cx="96.5" cy="200.2" r="3.45" fill="#ff0000"/>
<circle cx="102.9" cy="200.2" r="3.45" fill="#ff0000"/>
<circle cx="115.7" cy="197.8" r="3.45" fill="#ff0000"/>
<circle cx="127.4" cy="195.5" r="3.45" fill="#ff0000"/>
<circle cx="115.7" cy="203.7" r="3.45" fill="#ff0000"/>
<circle cx="85.9" cy="213.0" r="3.45" fill="#ff0000"/>
<circle cx="93.5" cy="213.0" r="3.45" fill="#ff0000"/>
<circle cx="101.1" cy="214.2" r="3.45" fill="#ff0000"/>
<circle cx="120.4" cy="214.8" r="3.45" fill="#ff0000"/>
<circle cx="85.9" cy="217.7" r="3.45" fill="#ff0000"/>
<circle cx="93.5" cy="220.0" r="3.45" fill="#ff0000"/>
<circle cx="112.2" cy="222.4" r="3.45" fill="#ff0000"/>
<circle cx="118.1" cy="221.2" r="3.45" fill="#ff0000"/>
<circle cx="136.2" cy="187.3" r="3.45" fill="#ff0000"/>
<circle cx="146.7" cy="187.9" r="3.45" fill="#ff0000"/>
<circle cx="159.5" cy="188.5" r="3.45" fill="#ff0000"/>
<circle cx="166.5" cy="186.8" r="3.45" fill="#ff0000"/>
<circle cx="145.5" cy="192.6" r="3.45" fill="#ff0000"/>
<circle cx="156.0" cy="196.7" r="3.45" fill="#ff0000"/>
<circle cx="150.2" cy="201.4" r="3.45" fill="#ff0000"/>
<circle cx="160.1" cy="200.8" r="3.45" fill="#ff0000"/>
<circle cx="167.1" cy="204.9" r="3.45" fill="#ff0000"/>
<circle cx="173.5" cy="208.9" r="3.45" fill="#ff0000"/>
<circle cx="166.5" cy="217.7" r="3.45" fill="#ff0000"/>
<circle cx="146.7" cy="221.2" r="3.45" fill="#ff0000"/>
<circle cx="136.2" cy="222.4" r="3.45" fill="#ff0000"/>
<circle cx="174.7" cy="191.4" r="3.45" fill="#ff0000"/>
<circle cx="179.1" cy="196.1" r="3.45" fill="#ff0000"/>
<circle cx="184.6" cy="194.3" r="3.45" fill="#ff0000"/>
<circle cx="190.5" cy="185.0" r="3.45" fill="#ff0000"/>
<circle cx="193.4" cy="196.7" r="3.45" fill="#ff0000"/>
<circle cx="190.1" cy="199.9" r="3.45" fill="#ff0000"/>
<circle cx="190.1" cy="204.3" r="3.45" fill="#ff0000"/>
<circle cx="201.8" cy="193.2" r="3.45" fill="#ff0000"/>
<circle cx="201.8" cy="203.1" r="3.45" fill="#ff0000"/>
<circle cx="184.6" cy="211.9" r="3.45" fill="#ff0000"/>
<circle cx="198.6" cy="211.9" r="3.45" fill="#ff0000"/>
<circle cx="189.9" cy="216.5" r="3.45" fill="#ff0000"/>
<circle cx="199.0" cy="216.5" r="3.45" fill="#ff0000"/>
<circle cx="195.7" cy="221.2" r="3.45" fill="#ff0000"/>
<circle cx="201.6" cy="221.8" r="3.45" fill="#ff0000"/>
<circle cx="185.2" cy="222.4" r="3.45" fill="#ff0000"/>
<circle cx="210.7" cy="215.6" r="3.45" fill="#ff0000"/>
<circle cx="212.7" cy="223.0" r="3.45" fill="#ff0000"/>
<circle cx="226.1" cy="200.2" r="3.45" fill="#ff0000"/>
<circle cx="219.1" cy="215.1" r="3.45" fill="#ff0000"/>
<circle cx="288.3" cy="218.3" r="3.45" fill="#ff0000"/>
<circle cx="83.0" cy="238.4" r="3.45" fill="#ff0000"/>
<circle cx="90.0" cy="226.2" r="3.45" fill="#ff0000"/>
<circle cx="102.9" cy="225.6" r="3.45" fill="#ff0000"/>
<circle cx="112.2" cy="226.2" r="3.45" fill="#ff0000"/>
<circle cx="100.5" cy="232.0" r="3.45" fill="#ff0000"/>
<circle cx="112.2" cy="231.4" r="3.45" fill="#ff0000"/>
<circle cx="121.0" cy="233.8" r="3.45" fill="#ff0000"/>
<circle cx="91.2" cy="239.0" r="3.45" fill="#ff0000"/>
<circle cx="95.9" cy="240.2" r="3.45" fill="#ff0000"/>
<circle cx="102.9" cy="241.4" r="3.45" fill="#ff0000"/>
<circle cx="112.2" cy="242.5" r="3.45" fill="#ff0000"/>
<circle cx="121.0" cy="243.7" r="3.45" fill="#ff0000"/>
<circle cx="129.7" cy="245.4" r="3.45" fill="#ff0000"/>
<circle cx="88.9" cy="248.9" r="3.45" fill="#ff0000"/>
<circle cx="93.5" cy="246.0" r="3.45" fill="#ff0000"/>
<circle cx="102.3" cy="247.8" r="3.45" fill="#ff0000"/>
<circle cx="109.3" cy="247.8" r="3.45" fill="#ff0000"/>
<circle cx="116.3" cy="251.9" r="3.45" fill="#ff0000"/>
<circle cx="123.9" cy="251.3" r="3.45" fill="#ff0000"/>
<circle cx="129.7" cy="253.0" r="3.45" fill="#ff0000"/>
<circle cx="88.3" cy="255.9" r="3.45" fill="#ff0000"/>
<circle cx="93.5" cy="253.0" r="3.45" fill="#ff0000"/>
<circle cx="101.7" cy="254.8" r="3.45" fill="#ff0000"/>
<circle cx="109.3" cy="258.9" r="3.45" fill="#ff0000"/>
<circle cx="115.1" cy="260.0" r="3.45" fill="#ff0000"/>
<circle cx="120.4" cy="260.0" r="3.45" fill="#ff0000"/>
<circle cx="97.0" cy="258.3" r="3.45" fill="#ff0000"/>
<circle cx="130.9" cy="260.0" r="3.45" fill="#ff0000"/>
<circle cx="104.1" cy="258.9" r="3.45" fill="#ff0000"/>
<circle cx="173.0" cy="231.4" r="3.45" fill="#ff0000"/>
<circle cx="178.8" cy="235.5" r="3.45" fill="#ff0000"/>
<circle cx="182.3" cy="239.6" r="3.45" fill="#ff0000"/>
<circle cx="187.0" cy="233.8" r="3.45" fill="#ff0000"/>
<circle cx="184.1" cy="229.1" r="3.45" fill="#ff0000"/>
<circle cx="190.5" cy="240.8" r="3.45" fill="#ff0000"/>
<circle cx="201.6" cy="228.5" r="3.45" fill="#ff0000"/>
<circle cx="198.6" cy="234.9" r="3.45" fill="#ff0000"/>
<circle cx="201.6" cy="239.0" r="3.45" fill="#ff0000"/>
<circle cx="198.6" cy="240.8" r="3.45" fill="#ff0000"/>
<circle cx="213.2" cy="225.6" r="3.45" fill="#ff0000"/>
<circle cx="164.2" cy="233.8" r="3.45" fill="#ff0000"/>
<circle cx="170.0" cy="237.8" r="3.45" fill="#ff0000"/>
<circle cx="173.0" cy="243.1" r="3.45" fill="#ff0000"/>
<circle cx="166.5" cy="250.7" r="3.45" fill="#ff0000"/>
<circle cx="155.4" cy="247.8" r="3.45" fill="#ff0000"/>
<circle cx="156.0" cy="255.9" r="3.45" fill="#ff0000"/>
<circle cx="149.6" cy="254.8" r="3.45" fill="#ff0000"/>
<circle cx="143.8" cy="256.5" r="3.45" fill="#ff0000"/>
<circle cx="140.3" cy="237.3" r="3.45" fill="#ff0000"/>
<circle cx="149.6" cy="234.3" r="3.45" fill="#ff0000"/>
<circle cx="158.4" cy="236.1" r="3.45" fill="#ff0000"/>
<circle cx="139.7" cy="227.3" r="3.45" fill="#ff0000"/>
<circle cx="156.0" cy="226.2" r="3.45" fill="#ff0000"/>
<circle cx="161.9" cy="229.7" r="3.45" fill="#ff0000"/>
<circle cx="136.2" cy="232.0" r="3.45" fill="#ff0000"/>
<circle cx="144.3" cy="242.5" r="3.45" fill="#ff0000"/>
<circle cx="137.3" cy="246.0" r="3.45" fill="#ff0000"/>
<circle cx="150.2" cy="247.2" r="3.45" fill="#ff0000"/>
<circle cx="158.4" cy="242.5" r="3.45" fill="#ff0000"/>
<circle cx="166.5" cy="263.0" r="3.45" fill="#ff0000"/>
<circle cx="157.2" cy="260.0" r="3.45" fill="#ff0000"/>
<circle cx="143.2" cy="260.0" r="3.45" fill="#ff0000"/>
<circle cx="236.3" cy="230.6" r="3.45" fill="#ff0000"/>
<circle cx="242.1" cy="231.4" r="3.45" fill="#ff0000"/>
<circle cx="245.1" cy="256.8" r="3.45" fill="#ff0000"/>
<circle cx="88.3" cy="256.4" r="3.45" fill="#ff0000"/>
<circle cx="109.3" cy="259.4" r="3.45" fill="#ff0000"/>
<circle cx="115.1" cy="260.3" r="3.45" fill="#ff0000"/>
<circle cx="120.4" cy="260.8" r="3.45" fill="#ff0000"/>
<circle cx="132.1" cy="263.2" r="3.45" fill="#ff0000"/>
<circle cx="95.9" cy="257.9" r="3.45" fill="#ff0000"/>
<circle cx="102.9" cy="258.5" r="3.45" fill="#ff0000"/>
<circle cx="143.8" cy="256.8" r="3.45" fill="#ff0000"/>
<circle cx="149.6" cy="256.2" r="3.45" fill="#ff0000"/>
<circle cx="155.4" cy="256.8" r="3.45" fill="#ff0000"/>
<circle cx="158.9" cy="259.1" r="3.45" fill="#ff0000"/>
<circle cx="146.7" cy="260.3" r="3.45" fill="#ff0000"/>
<circle cx="153.7" cy="260.3" r="3.45" fill="#ff0000"/>
<circle cx="155.4" cy="266.1" r="3.45" fill="#ff0000"/>
<circle cx="165.9" cy="267.3" r="3.45" fill="#ff0000"/>
<circle cx="167.1" cy="263.8" r="3.45" fill="#ff0000"/>
<circle cx="173.0" cy="269.0" r="3.45" fill="#ff0000"/>
<circle cx="178.8" cy="269.6" r="3.45" fill="#ff0000"/>
<circle cx="173.0" cy="255.6" r="3.45" fill="#ff0000"/>
<circle cx="190.8" cy="271.4" r="3.45" fill="#ff0000"/>
<circle cx="204.8" cy="273.5" r="3.45" fill="#ff0000"/>
<circle cx="230.8" cy="226.5" r="3.45" fill="#ff0000"/>
<circle cx="158.4" cy="103.1" r="3.45" fill="#ff0000"/>
<circle cx="153.1" cy="112.3" r="3.45" fill="#ff0000"/>
<circle cx="172.8" cy="107.7" r="3.45" fill="#ff0000"/>
<circle cx="178.7" cy="111.7" r="3.45" fill="#ff0000"/>
<circle cx="167.6" cy="106.4" r="3.45" fill="#ff0000"/>
<circle cx="84.0" cy="37.3" r="3.45" fill="#008000"/>
<circle cx="101.1" cy="43.1" r="3.45" fill="#008000"/>
<circle cx="104.6" cy="46.4" r="3.45" fill="#008000"/>
<circle cx="107.6" cy="48.0" r="3.45" fill="#008000"/>
<circle cx="109.9" cy="40.8" r="3.45" fill="#008000"/>
<circle cx="115.1" cy="41.4" r="3.45" fill="#008000"/>
<circle cx="115.1" cy="44.3" r="3.45" fill="#008000"/>
<circle cx="121.3" cy="42.5" r="3.45" fill="#008000"/>
<circle cx="121.3" cy="46.0" r="3.45" fill="#008000"/>
<circle cx="123.0" cy="51.3" r="3.45" fill="#008000"/>
<circle cx="130.1" cy="43.7" r="3.45" fill="#008000"/>
<circle cx="134.8" cy="47.8" r="3.45" fill="#008000"/>
<circle cx="136.8" cy="44.9" r="3.45" fill="#008000"/>
<circle cx="136.2" cy="47.8" r="3.45" fill="#008000"/>
<circle cx="144.3" cy="46.0" r="3.45" fill="#008000"/>
<circle cx="149.9" cy="46.6" r="3.45" fill="#008000"/>
<circle cx="156.0" cy="51.3" r="3.45" fill="#008000"/>
<circle cx="161.9" cy="48.9" r="3.45" fill="#008000"/>
<circle cx="170.0" cy="50.1" r="3.45" fill="#008000"/>
<circle cx="174.7" cy="52.4" r="3.45" fill="#008000"/>
<circle cx="189.7" cy="52.8" r="3.45" fill="#008000"/>
<circle cx="184.6" cy="61.2" r="3.45" fill="#008000"/>
<circle cx="202.7" cy="54.8" r="3.45" fill="#008000"/>
<circle cx="202.5" cy="58.3" r="3.45" fill="#008000"/>
<circle cx="205.7" cy="62.1" r="3.45" fill="#008000"/>
<circle cx="214.8" cy="56.5" r="3.45" fill="#008000"/>
<circle cx="136.2" cy="63.0" r="3.45" fill="#008000"/>
<circle cx="143.8" cy="63.5" r="3.45" fill="#008000"/>
<circle cx="95.3" cy="66.8" r="3.45" fill="#008000"/>
<circle cx="103.8" cy="68.5" r="3.45" fill="#008000"/>
<circle cx="126.5" cy="71.4" r="3.45" fill="#008000"/>
<circle cx="109.0" cy="78.8" r="3.45" fill="#008000"/>
<circle cx="132.7" cy="82.3" r="3.45" fill="#008000"/>
<circle cx="94.7" cy="89.5" r="3.45" fill="#008000"/>
<circle cx="115.5" cy="88.9" r="3.45" fill="#008000"/>
<circle cx="106.4" cy="97.7" r="3.45" fill="#008000"/>
<circle cx="115.5" cy="98.6" r="3.45" fill="#008000"/>
<circle cx="124.1" cy="100.0" r="3.45" fill="#008000"/>
<circle cx="132.1" cy="101.2" r="3.45" fill="#008000"/>
<circle cx="115.7" cy="103.5" r="3.45" fill="#008000"/>
<circle cx="143.8" cy="65.6" r="3.45" fill="#008000"/>
<circle cx="173.3" cy="69.4" r="3.45" fill="#008000"/>
<circle cx="144.6" cy="75.7" r="3.45" fill="#008000"/>
<circle cx="163.3" cy="77.3" r="3.45" fill="#008000"/>
<circle cx="161.6" cy="85.4" r="3.45" fill="#008000"/>
<circle cx="166.3" cy="86.6" r="3.45" fill="#008000"/>
<circle cx="144.3" cy="89.9" r="3.45" fill="#008000"/>
<circle cx="193.4" cy="89.3" r="3.45" fill="#008000"/>
<circle cx="150.2" cy="98.3" r="3.45" fill="#008000"/>
<circle cx="161.6" cy="99.5" r="3.45" fill="#008000"/>
<circle cx="136.8" cy="101.2" r="3.45" fill="#008000"/>
<circle cx="142.0" cy="100.0" r="3.45" fill="#008000"/>
<circle cx="144.3" cy="102.4" r="3.45" fill="#008000"/>
<circle cx="153.7" cy="102.4" r="3.45" fill="#008000"/>
<circle cx="179.4" cy="104.1" r="3.45" fill="#008000"/>
<circle cx="208.0" cy="104.7" r="3.45" fill="#008000"/>
<circle cx="98.2" cy="109.4" r="3.45" fill="#008000"/>
<circle cx="111.3" cy="115.3" r="3.45" fill="#008000"/>
<circle cx="116.0" cy="116.1" r="3.45" fill="#008000"/>
<circle cx="123.9" cy="109.1" r="3.45" fill="#008000"/>
<circle cx="131.5" cy="106.2" r="3.45" fill="#008000"/>
<circle cx="88.3" cy="127.2" r="3.45" fill="#008000"/>
<circle cx="86.5" cy="140.0" r="3.45" fill="#008000"/>
<circle cx="95.3" cy="140.6" r="3.45" fill="#008000"/>
<circle cx="109.3" cy="131.9" r="3.45" fill="#008000"/>
<circle cx="128.8" cy="134.2" r="3.45" fill="#008000"/>
<circle cx="132.7" cy="132.1" r="3.45" fill="#008000"/>
<circle cx="129.7" cy="141.8" r="3.45" fill="#008000"/>
<circle cx="108.1" cy="143.0" r="3.45" fill="#008000"/>
<circle cx="118.1" cy="143.5" r="3.45" fill="#008000"/>
<circle cx="145.5" cy="105.6" r="3.45" fill="#008000"/>
<circle cx="146.7" cy="111.4" r="3.45" fill="#008000"/>
<circle cx="179.4" cy="106.2" r="3.45" fill="#008000"/>
<circle cx="179.1" cy="109.7" r="3.45" fill="#008000"/>
<circle cx="187.6" cy="107.9" r="3.45" fill="#008000"/>
<circle cx="202.2" cy="112.0" r="3.45" fill="#008000"/>
<circle cx="208.0" cy="107.3" r="3.45" fill="#008000"/>
<circle cx="142.6" cy="116.7" r="3.45" fill="#008000"/>
<circle cx="144.3" cy="120.8" r="3.45" fill="#008000"/>
<circle cx="144.3" cy="124.9" r="3.45" fill="#008000"/>
<circle cx="147.3" cy="131.3" r="3.45" fill="#008000"/>
<circle cx="167.5" cy="140.6" r="3.45" fill="#008000"/>
<circle cx="184.6" cy="143.5" r="3.45" fill="#008000"/>
<circle cx="230.8" cy="107.1" r="3.45" fill="#008000"/>
<circle cx="222.2" cy="138.6" r="3.45" fill="#008000"/>
<circle cx="80.1" cy="163.7" r="3.45" fill="#008000"/>
<circle cx="98.0" cy="150.3" r="3.45" fill="#008000"/>
<circle cx="104.1" cy="149.7" r="3.45" fill="#008000"/>
<circle cx="110.8" cy="150.3" r="3.45" fill="#008000"/>
<circle cx="116.9" cy="152.0" r="3.45" fill="#008000"/>
<circle cx="118.1" cy="145.6" r="3.45" fill="#008000"/>
<circle cx="126.8" cy="152.0" r="3.45" fill="#008000"/>
<circle cx="106.4" cy="157.3" r="3.45" fill="#008000"/>
<circle cx="106.4" cy="162.5" r="3.45" fill="#008000"/>
<circle cx="121.0" cy="161.4" r="3.45" fill="#008000"/>
<circle cx="133.2" cy="157.8" r="3.45" fill="#008000"/>
<circle cx="95.3" cy="171.9" r="3.45" fill="#008000"/>
<circle cx="100.5" cy="169.5" r="3.45" fill="#008000"/>
<circle cx="112.2" cy="170.1" r="3.45" fill="#008000"/>
<circle cx="132.1" cy="164.9" r="3.45" fill="#008000"/>
<circle cx="89.5" cy="175.4" r="3.45" fill="#008000"/>
<circle cx="92.4" cy="180.0" r="3.45" fill="#008000"/>
<circle cx="112.2" cy="177.7" r="3.45" fill="#008000"/>
<circle cx="128.6" cy="174.2" r="3.45" fill="#008000"/>
<circle cx="106.4" cy="182.4" r="3.45" fill="#008000"/>
<circle cx="118.1" cy="183.5" r="3.45" fill="#008000"/>
<circle cx="125.1" cy="181.2" r="3.45" fill="#008000"/>
<circle cx="127.4" cy="183.5" r="3.45" fill="#008000"/>
<circle cx="137.3" cy="147.9" r="3.45" fill="#008000"/>
<circle cx="141.4" cy="146.2" r="3.45" fill="#008000"/>
<circle cx="147.3" cy="148.5" r="3.45" fill="#008000"/>
<circle cx="136.2" cy="157.8" r="3.45" fill="#008000"/>
<circle cx="166.5" cy="150.3" r="3.45" fill="#008000"/>
<circle cx="172.1" cy="149.4" r="3.45" fill="#008000"/>
<circle cx="184.6" cy="145.6" r="3.45" fill="#008000"/>
<circle cx="158.4" cy="157.3" r="3.45" fill="#008000"/>
<circle cx="155.4" cy="159.6" r="3.45" fill="#008000"/>
<circle cx="152.5" cy="161.9" r="3.45" fill="#008000"/>
<circle cx="161.9" cy="160.8" r="3.45" fill="#008000"/>
<circle cx="138.5" cy="164.9" r="3.45" fill="#008000"/>
<circle cx="202.5" cy="167.2" r="3.45" fill="#008000"/>
<circle cx="155.4" cy="175.9" r="3.45" fill="#008000"/>
<circle cx="136.2" cy="180.0" r="3.45" fill="#008000"/>
<circle cx="152.5" cy="183.0" r="3.45" fill="#008000"/>
<circle cx="161.3" cy="182.4" r="3.45" fill="#008000"/>
<circle cx="103.8" cy="189.4" r="3.45" fill="#008000"/>
<circle cx="117.5" cy="185.6" r="3.45" fill="#008000"/>
<circle cx="123.9" cy="186.2" r="3.45" fill="#008000"/>
<circle cx="115.7" cy="190.3" r="3.45" fill="#008000"/>
<circle cx="121.0" cy="192.0" r="3.45" fill="#008000"/>
<circle cx="127.4" cy="190.3" r="3.45" fill="#008000"/>
<circle cx="92.1" cy="196.1" r="3.45" fill="#008000"/>
<circle cx="109.3" cy="200.8" r="3.45" fill="#008000"/>
<circle cx="123.9" cy="198.4" r="3.45" fill="#008000"/>
<circle cx="132.1" cy="200.2" r="3.45" fill="#008000"/>
<circle cx="82.4" cy="203.7" r="3.45" fill="#008000"/>
<circle cx="87.1" cy="204.9" r="3.45" fill="#008000"/>
<circle cx="92.1" cy="205.4" r="3.45" fill="#008000"/>
<circle cx="98.2" cy="206.6" r="3.45" fill="#008000"/>
<circle cx="105.8" cy="206.0" r="3.45" fill="#008000"/>
<circle cx="109.3" cy="208.4" r="3.45" fill="#008000"/>
<circle cx="118.1" cy="209.5" r="3.45" fill="#008000"/>
<circle cx="125.1" cy="204.3" r="3.45" fill="#008000"/>
<circle cx="129.7" cy="203.7" r="3.45" fill="#008000"/>
<circle cx="133.2" cy="208.4" r="3.45" fill="#008000"/>
<circle cx="109.3" cy="214.8" r="3.45" fill="#008000"/>
<circle cx="115.1" cy="217.1" r="3.45" fill="#008000"/>
<circle cx="126.5" cy="212.4" r="3.45" fill="#008000"/>
<circle cx="131.5" cy="215.4" r="3.45" fill="#008000"/>
<circle cx="98.2" cy="223.0" r="3.45" fill="#008000"/>
<circle cx="105.2" cy="220.6" r="3.45" fill="#008000"/>
<circle cx="125.1" cy="222.4" r="3.45" fill="#008000"/>
<circle cx="129.7" cy="223.5" r="3.45" fill="#008000"/>
<circle cx="153.1" cy="185.6" r="3.45" fill="#008000"/>
<circle cx="139.7" cy="192.0" r="3.45" fill="#008000"/>
<circle cx="150.2" cy="195.5" r="3.45" fill="#008000"/>
<circle cx="165.9" cy="192.0" r="3.45" fill="#008000"/>
<circle cx="165.4" cy="197.3" r="3.45" fill="#008000"/>
<circle cx="136.2" cy="196.7" r="3.45" fill="#008000"/>
<circle cx="144.3" cy="203.1" r="3.45" fill="#008000"/>
<circle cx="173.0" cy="200.8" r="3.45" fill="#008000"/>
<circle cx="152.5" cy="205.4" r="3.45" fill="#008000"/>
<circle cx="178.2" cy="204.9" r="3.45" fill="#008000"/>
<circle cx="135.6" cy="210.1" r="3.45" fill="#008000"/>
<circle cx="144.3" cy="212.4" r="3.45" fill="#008000"/>
<circle cx="152.5" cy="210.1" r="3.45" fill="#008000"/>
<circle cx="161.3" cy="209.5" r="3.45" fill="#008000"/>
<circle cx="167.1" cy="213.0" r="3.45" fill="#008000"/>
<circle cx="173.0" cy="213.6" r="3.45" fill="#008000"/>
<circle cx="178.8" cy="214.8" r="3.45" fill="#008000"/>
<circle cx="156.6" cy="214.8" r="3.45" fill="#008000"/>
<circle cx="139.7" cy="216.5" r="3.45" fill="#008000"/>
<circle cx="152.5" cy="221.2" r="3.45" fill="#008000"/>
<circle cx="161.3" cy="220.6" r="3.45" fill="#008000"/>
<circle cx="175.9" cy="221.2" r="3.45" fill="#008000"/>
<circle cx="170.0" cy="223.0" r="3.45" fill="#008000"/>
<circle cx="187.3" cy="191.4" r="3.45" fill="#008000"/>
<circle cx="227.8" cy="214.8" r="3.45" fill="#008000"/>
<circle cx="97.6" cy="225.0" r="3.45" fill="#008000"/>
<circle cx="121.0" cy="226.8" r="3.45" fill="#008000"/>
<circle cx="128.6" cy="225.6" r="3.45" fill="#008000"/>
<circle cx="126.2" cy="229.7" r="3.45" fill="#008000"/>
<circle cx="132.7" cy="231.4" r="3.45" fill="#008000"/>
<circle cx="106.4" cy="236.7" r="3.45" fill="#008000"/>
<circle cx="132.1" cy="236.1" r="3.45" fill="#008000"/>
<circle cx="126.2" cy="261.8" r="3.45" fill="#008000"/>
<circle cx="145.5" cy="226.8" r="3.45" fill="#008000"/>
<circle cx="170.0" cy="225.0" r="3.45" fill="#008000"/>
<circle cx="195.7" cy="226.2" r="3.45" fill="#008000"/>
<circle cx="210.3" cy="229.9" r="3.45" fill="#008000"/>
<circle cx="161.3" cy="248.4" r="3.45" fill="#008000"/>
<circle cx="172.6" cy="251.6" r="3.45" fill="#008000"/>
<circle cx="138.5" cy="255.6" r="3.45" fill="#008000"/>
<circle cx="138.5" cy="263.0" r="3.45" fill="#008000"/>
<circle cx="149.6" cy="263.5" r="3.45" fill="#008000"/>
<circle cx="173.0" cy="262.6" r="3.45" fill="#008000"/>
<circle cx="126.0" cy="261.8" r="3.45" fill="#008000"/>
<circle cx="138.5" cy="256.8" r="3.45" fill="#008000"/>
<circle cx="138.5" cy="263.8" r="3.45" fill="#008000"/>
<circle cx="142.6" cy="264.3" r="3.45" fill="#008000"/>
<circle cx="149.6" cy="264.3" r="3.45" fill="#008000"/>
<circle cx="161.3" cy="266.7" r="3.45" fill="#008000"/>
<circle cx="173.0" cy="262.6" r="3.45" fill="#008000"/>
<circle cx="186.4" cy="270.8" r="3.45" fill="#008000"/>
<circle cx="131.4" cy="101.2" r="3.45" fill="#008000"/>
<circle cx="136.0" cy="101.8" r="3.45" fill="#008000"/>
<circle cx="141.3" cy="100.5" r="3.45" fill="#008000"/>
<circle cx="145.9" cy="105.1" r="3.45" fill="#008000"/>
<circle cx="153.8" cy="102.5" r="3.45" fill="#008000"/>
<circle cx="138.7" cy="104.5" r="3.45" fill="#008000"/>
<circle cx="128.1" cy="103.1" r="3.45" fill="#008000"/></g>
<line x1="45.50" y1="287.0" x2="45.50" y2="283.4" class="tick"/>
<line x1="45.50" y1="19.55" x2="45.50" y2="23.150000000000002" class="tick"/>
<rect x="31.56" y="294.75" width="6.9" height="1.1" fill="#000"/>
<text transform="translate(39.61,299.20) scale(1.104,1)" filter="url(#gs)" style="font-size:11.4px;font-family:'Liberation Sans', sans-serif">150</text>
<line x1="74.39" y1="287.0" x2="74.39" y2="283.4" class="tick"/>
<line x1="74.39" y1="19.55" x2="74.39" y2="23.150000000000002" class="tick"/>
<rect x="60.45" y="294.75" width="6.9" height="1.1" fill="#000"/>
<text transform="translate(68.50,299.20) scale(1.104,1)" filter="url(#gs)" style="font-size:11.4px;font-family:'Liberation Sans', sans-serif">100</text>
<line x1="103.28" y1="287.0" x2="103.28" y2="283.4" class="tick"/>
<line x1="103.28" y1="19.55" x2="103.28" y2="23.150000000000002" class="tick"/>
<rect x="92.84" y="294.75" width="6.9" height="1.1" fill="#000"/>
<text transform="translate(100.89,299.20) scale(1.104,1)" filter="url(#gs)" style="font-size:11.4px;font-family:'Liberation Sans', sans-serif">50</text>
<line x1="132.17" y1="287.0" x2="132.17" y2="283.4" class="tick"/>
<line x1="132.17" y1="19.55" x2="132.17" y2="23.150000000000002" class="tick"/>
<text transform="translate(128.67,299.20) scale(1.104,1)" filter="url(#gs)" style="font-size:11.4px;font-family:'Liberation Sans', sans-serif">0</text>
<line x1="161.06" y1="287.0" x2="161.06" y2="283.4" class="tick"/>
<line x1="161.06" y1="19.55" x2="161.06" y2="23.150000000000002" class="tick"/>
<text transform="translate(154.06,299.20) scale(1.104,1)" filter="url(#gs)" style="font-size:11.4px;font-family:'Liberation Sans', sans-serif">50</text>
<line x1="189.94" y1="287.0" x2="189.94" y2="283.4" class="tick"/>
<line x1="189.94" y1="19.55" x2="189.94" y2="23.150000000000002" class="tick"/>
<text transform="translate(179.44,299.20) scale(1.104,1)" filter="url(#gs)" style="font-size:11.4px;font-family:'Liberation Sans', sans-serif">100</text>
<line x1="218.83" y1="287.0" x2="218.83" y2="283.4" class="tick"/>
<line x1="218.83" y1="19.55" x2="218.83" y2="23.150000000000002" class="tick"/>
<text transform="translate(208.33,299.20) scale(1.104,1)" filter="url(#gs)" style="font-size:11.4px;font-family:'Liberation Sans', sans-serif">150</text>
<line x1="247.72" y1="287.0" x2="247.72" y2="283.4" class="tick"/>
<line x1="247.72" y1="19.55" x2="247.72" y2="23.150000000000002" class="tick"/>
<text transform="translate(237.22,299.20) scale(1.104,1)" filter="url(#gs)" style="font-size:11.4px;font-family:'Liberation Sans', sans-serif">200</text>
<line x1="276.61" y1="287.0" x2="276.61" y2="283.4" class="tick"/>
<line x1="276.61" y1="19.55" x2="276.61" y2="23.150000000000002" class="tick"/>
<text transform="translate(266.11,299.20) scale(1.104,1)" filter="url(#gs)" style="font-size:11.4px;font-family:'Liberation Sans', sans-serif">250</text>
<line x1="305.50" y1="287.0" x2="305.50" y2="283.4" class="tick"/>
<line x1="305.50" y1="19.55" x2="305.50" y2="23.150000000000002" class="tick"/>
<text transform="translate(295.00,299.20) scale(1.104,1)" filter="url(#gs)" style="font-size:11.4px;font-family:'Liberation Sans', sans-serif">300</text>
<line x1="45.5" y1="287.60" x2="49.1" y2="287.60" class="tick"/>
<line x1="305.3" y1="287.60" x2="301.7" y2="287.60" class="tick"/>
<rect x="19.71" y="286.55" width="6.9" height="1.1" fill="#000"/>
<text transform="translate(27.76,291.00) scale(1.104,1)" filter="url(#gs)" style="font-size:11.4px;font-family:'Liberation Sans', sans-serif">20</text>
<line x1="45.5" y1="242.87" x2="49.1" y2="242.87" class="tick"/>
<line x1="305.3" y1="242.87" x2="301.7" y2="242.87" class="tick"/>
<rect x="19.71" y="241.82" width="6.9" height="1.1" fill="#000"/>
<text transform="translate(27.76,246.27) scale(1.104,1)" filter="url(#gs)" style="font-size:11.4px;font-family:'Liberation Sans', sans-serif">10</text>
<line x1="45.5" y1="198.13" x2="49.1" y2="198.13" class="tick"/>
<line x1="305.3" y1="198.13" x2="301.7" y2="198.13" class="tick"/>
<text transform="translate(34.76,201.53) scale(1.104,1)" filter="url(#gs)" style="font-size:11.4px;font-family:'Liberation Sans', sans-serif">0</text>
<line x1="45.5" y1="153.40" x2="49.1" y2="153.40" class="tick"/>
<line x1="305.3" y1="153.40" x2="301.7" y2="153.40" class="tick"/>
<text transform="translate(27.76,156.80) scale(1.104,1)" filter="url(#gs)" style="font-size:11.4px;font-family:'Liberation Sans', sans-serif">10</text>
<line x1="45.5" y1="108.67" x2="49.1" y2="108.67" class="tick"/>
<line x1="305.3" y1="108.67" x2="301.7" y2="108.67" class="tick"/>
<text transform="translate(27.76,112.07) scale(1.104,1)" filter="url(#gs)" style="font-size:11.4px;font-family:'Liberation Sans', sans-serif">20</text>
<line x1="45.5" y1="63.93" x2="49.1" y2="63.93" class="tick"/>
<line x1="305.3" y1="63.93" x2="301.7" y2="63.93" class="tick"/>
<text transform="translate(27.76,67.33) scale(1.104,1)" filter="url(#gs)" style="font-size:11.4px;font-family:'Liberation Sans', sans-serif">30</text>
<line x1="45.5" y1="19.20" x2="49.1" y2="19.20" class="tick"/>
<line x1="305.3" y1="19.20" x2="301.7" y2="19.20" class="tick"/>
<text transform="translate(27.76,22.60) scale(1.104,1)" filter="url(#gs)" style="font-size:11.4px;font-family:'Liberation Sans', sans-serif">40</text>
<rect x="45.5" y="19.55" width="259.80" height="267.45" class="spine"/>
<rect x="241.5" y="26.2" width="57.30" height="41.90" fill="#fff" stroke="#000" stroke-width="1.1"/>
<circle cx="251" cy="37.5" r="3.2" fill="#ff0000" stroke="#000" stroke-width="1"/>
<circle cx="260.3" cy="36.3" r="3.2" fill="#ff0000" stroke="#000" stroke-width="1"/>
<circle cx="269.6" cy="38.3" r="3.2" fill="#ff0000" stroke="#000" stroke-width="1"/>
<circle cx="251" cy="56.9" r="3.2" fill="#008000" stroke="#000" stroke-width="1"/>
<circle cx="260.3" cy="55.7" r="3.2" fill="#008000" stroke="#000" stroke-width="1"/>
<circle cx="269.6" cy="57.7" r="3.2" fill="#008000" stroke="#000" stroke-width="1"/>
<text transform="translate(284.80,41.70) scale(1.12,1)" filter="url(#gs)" style="font-size:13.5px;font-family:'Liberation Sans', sans-serif">0</text>
<text transform="translate(284.59,60.40) scale(1.12,1)" filter="url(#gs)" style="font-size:13.5px;font-family:'Liberation Sans', sans-serif">1</text>
<text transform="translate(92.23,14.50) scale(1.104,1)" filter="url(#gs)" style="font-size:19.3px;font-family:'Liberation Sans', sans-serif">2 component</text>
<text transform="translate(221.56,14.50) scale(0.931,1)" filter="url(#gs)" style="font-size:19.3px;font-family:'Liberation Sans', sans-serif">PCA</text>
<text transform="translate(95.95,316.80) scale(1.0716,1)" filter="url(#gs)" style="font-size:14.6px;font-family:'Liberation Sans', sans-serif">Principal Component 1</text>
<text transform="translate(11.00,231.95) rotate(-90) scale(1.0716,1)" filter="url(#gs)" style="font-size:14.6px;font-family:'Liberation Sans', sans-serif">Principal Component 2</text>
<line x1="458.55" y1="286.3" x2="458.55" y2="18.45" class="grid"/>
<line x1="501.80" y1="286.3" x2="501.80" y2="18.45" class="grid"/>
<line x1="545.05" y1="286.3" x2="545.05" y2="18.45" class="grid"/>
<line x1="588.30" y1="286.3" x2="588.30" y2="18.45" class="grid"/>
<line x1="631.55" y1="286.3" x2="631.55" y2="18.45" class="grid"/>
<line x1="415.2" y1="241.93" x2="675.0" y2="241.93" class="grid"/>
<line x1="415.2" y1="197.25" x2="675.0" y2="197.25" class="grid"/>
<line x1="415.2" y1="152.58" x2="675.0" y2="152.58" class="grid"/>
<line x1="415.2" y1="107.90" x2="675.0" y2="107.90" class="grid"/>
<line x1="415.2" y1="63.22" x2="675.0" y2="63.22" class="grid"/>
<g stroke="#000" stroke-width="1.3"><circle cx="468.0" cy="88.7" r="3.6" fill="#008000"/>
<circle cx="470.0" cy="87.8" r="3.6" fill="#008000"/>
<circle cx="472.0" cy="87.0" r="3.6" fill="#008000"/>
<circle cx="474.0" cy="86.1" r="3.6" fill="#008000"/>
<circle cx="476.0" cy="85.3" r="3.6" fill="#008000"/>
<circle cx="478.1" cy="84.4" r="3.6" fill="#008000"/>
<circle cx="480.1" cy="83.6" r="3.6" fill="#008000"/>
<circle cx="482.1" cy="82.7" r="3.6" fill="#008000"/>
<circle cx="484.1" cy="81.9" r="3.6" fill="#008000"/>
<circle cx="486.1" cy="81.0" r="3.6" fill="#008000"/>
<circle cx="488.1" cy="80.2" r="3.6" fill="#008000"/>
<circle cx="490.1" cy="79.3" r="3.6" fill="#008000"/>
<circle cx="492.2" cy="78.5" r="3.6" fill="#008000"/>
<circle cx="494.2" cy="77.6" r="3.6" fill="#008000"/>
<circle cx="496.2" cy="76.8" r="3.6" fill="#008000"/>
<circle cx="498.2" cy="75.9" r="3.6" fill="#008000"/>
<circle cx="500.2" cy="75.1" r="3.6" fill="#008000"/>
<circle cx="502.2" cy="74.2" r="3.6" fill="#008000"/>
<circle cx="502.0" cy="74.3" r="3.6" fill="#008000"/>
<circle cx="504.0" cy="73.6" r="3.6" fill="#008000"/>
<circle cx="506.1" cy="72.9" r="3.6" fill="#008000"/>
<circle cx="508.1" cy="72.2" r="3.6" fill="#008000"/>
<circle cx="510.1" cy="71.5" r="3.6" fill="#008000"/>
<circle cx="512.2" cy="70.8" r="3.6" fill="#008000"/>
<circle cx="514.2" cy="70.1" r="3.6" fill="#008000"/>
<circle cx="516.2" cy="69.4" r="3.6" fill="#008000"/>
<circle cx="518.2" cy="68.7" r="3.6" fill="#008000"/>
<circle cx="520.3" cy="68.0" r="3.6" fill="#008000"/>
<circle cx="522.3" cy="67.2" r="3.6" fill="#008000"/>
<circle cx="524.3" cy="66.5" r="3.6" fill="#008000"/>
<circle cx="526.3" cy="65.8" r="3.6" fill="#008000"/>
<circle cx="528.4" cy="65.1" r="3.6" fill="#008000"/>
<circle cx="530.4" cy="64.4" r="3.6" fill="#008000"/>
<circle cx="532.4" cy="63.7" r="3.6" fill="#008000"/>
<circle cx="534.5" cy="63.0" r="3.6" fill="#008000"/>
<circle cx="536.5" cy="62.3" r="3.6" fill="#008000"/>
<circle cx="538.5" cy="61.6" r="3.6" fill="#008000"/>
<circle cx="540.5" cy="60.9" r="3.6" fill="#008000"/>
<circle cx="542.6" cy="60.2" r="3.6" fill="#008000"/>
<circle cx="542.4" cy="60.8" r="3.6" fill="#008000"/>
<circle cx="540.8" cy="61.8" r="3.6" fill="#008000"/>
<circle cx="539.1" cy="62.8" r="3.6" fill="#008000"/>
<circle cx="543.5" cy="74.7" r="3.6" fill="#008000"/>
<circle cx="545.5" cy="74.9" r="3.6" fill="#008000"/>
<circle cx="547.5" cy="75.2" r="3.6" fill="#008000"/>
<circle cx="549.5" cy="75.4" r="3.6" fill="#008000"/>
<circle cx="546.5" cy="220.4" r="3.6" fill="#008000"/>
<circle cx="548.5" cy="221.3" r="3.6" fill="#008000"/>
<circle cx="548.7" cy="221.9" r="3.6" fill="#008000"/>
<circle cx="546.8" cy="222.8" r="3.6" fill="#008000"/>
<circle cx="544.9" cy="223.8" r="3.6" fill="#008000"/>
<circle cx="543.0" cy="224.7" r="3.6" fill="#008000"/>
<circle cx="541.1" cy="225.7" r="3.6" fill="#008000"/>
<circle cx="539.2" cy="226.7" r="3.6" fill="#008000"/>
<circle cx="537.2" cy="227.6" r="3.6" fill="#008000"/>
<circle cx="535.3" cy="228.6" r="3.6" fill="#008000"/>
<circle cx="535.3" cy="228.6" r="3.6" fill="#008000"/>
<circle cx="533.5" cy="229.5" r="3.6" fill="#008000"/>
<circle cx="531.6" cy="230.5" r="3.6" fill="#008000"/>
<circle cx="529.7" cy="231.4" r="3.6" fill="#008000"/>
<circle cx="527.8" cy="232.4" r="3.6" fill="#008000"/>
<circle cx="525.9" cy="233.3" r="3.6" fill="#008000"/>
<circle cx="524.0" cy="234.3" r="3.6" fill="#008000"/>
<circle cx="522.1" cy="235.2" r="3.6" fill="#008000"/>
<circle cx="520.2" cy="236.1" r="3.6" fill="#008000"/>
<circle cx="518.3" cy="237.1" r="3.6" fill="#008000"/>
<circle cx="517.8" cy="237.5" r="3.6" fill="#008000"/>
<circle cx="516.2" cy="238.7" r="3.6" fill="#008000"/>
<circle cx="514.6" cy="239.9" r="3.6" fill="#008000"/>
<circle cx="513.0" cy="241.1" r="3.6" fill="#008000"/>
<circle cx="511.4" cy="242.3" r="3.6" fill="#008000"/>
<circle cx="509.7" cy="243.0" r="3.6" fill="#008000"/>
<circle cx="507.7" cy="243.2" r="3.6" fill="#008000"/>
<circle cx="505.7" cy="243.3" r="3.6" fill="#008000"/>
<circle cx="503.7" cy="243.5" r="3.6" fill="#008000"/>
<circle cx="501.7" cy="243.7" r="3.6" fill="#008000"/>
<circle cx="499.7" cy="243.8" r="3.6" fill="#008000"/>
<circle cx="497.7" cy="244.0" r="3.6" fill="#008000"/>
<circle cx="497.0" cy="244.2" r="3.6" fill="#008000"/>
<circle cx="495.0" cy="244.7" r="3.6" fill="#008000"/>
<circle cx="493.0" cy="245.3" r="3.6" fill="#008000"/>
<circle cx="491.0" cy="245.9" r="3.6" fill="#008000"/>
<circle cx="489.0" cy="246.5" r="3.6" fill="#008000"/>
<circle cx="487.0" cy="247.1" r="3.6" fill="#008000"/>
<circle cx="485.0" cy="247.7" r="3.6" fill="#008000"/>
<circle cx="483.0" cy="248.3" r="3.6" fill="#008000"/>
<circle cx="481.0" cy="248.9" r="3.6" fill="#008000"/>
<circle cx="479.0" cy="249.5" r="3.6" fill="#008000"/>
<circle cx="478.5" cy="249.6" r="3.6" fill="#008000"/>
<circle cx="476.5" cy="250.5" r="3.6" fill="#008000"/>
<circle cx="474.5" cy="251.4" r="3.6" fill="#008000"/>
<circle cx="472.5" cy="252.3" r="3.6" fill="#008000"/>
<circle cx="470.5" cy="253.2" r="3.6" fill="#008000"/>
<circle cx="467.7" cy="254.0" r="3.6" fill="#008000"/>
<circle cx="465.9" cy="254.3" r="3.6" fill="#008000"/>
<circle cx="464.1" cy="254.5" r="3.6" fill="#008000"/>
<circle cx="462.2" cy="254.7" r="3.6" fill="#008000"/>
<circle cx="460.4" cy="254.9" r="3.6" fill="#008000"/>
<circle cx="460.0" cy="254.8" r="3.6" fill="#008000"/>
<circle cx="466.2" cy="100.0" r="3.6" fill="#008000"/>
<circle cx="466.2" cy="97.8" r="3.6" fill="#008000"/>
<circle cx="466.2" cy="95.7" r="3.6" fill="#008000"/>
<circle cx="466.2" cy="93.5" r="3.6" fill="#008000"/>
<circle cx="466.2" cy="91.3" r="3.6" fill="#008000"/>
<circle cx="475.5" cy="175.8" r="3.6" fill="#008000"/>
<circle cx="525.9" cy="99.0" r="3.6" fill="#008000"/>
<circle cx="530.0" cy="166.7" r="3.6" fill="#008000"/>
<circle cx="525.3" cy="117.6" r="3.6" fill="#008000"/>
<circle cx="461.2" cy="122.3" r="3.6" fill="#008000"/>
<circle cx="490.5" cy="98.2" r="3.6" fill="#008000"/>
<circle cx="528.3" cy="102.9" r="3.6" fill="#008000"/>
<circle cx="526.2" cy="225.8" r="3.6" fill="#008000"/>
<circle cx="507.6" cy="137.9" r="3.6" fill="#008000"/>
<circle cx="472.5" cy="211.4" r="3.6" fill="#008000"/>
<circle cx="493.8" cy="113.5" r="3.6" fill="#008000"/>
<circle cx="491.4" cy="167.3" r="3.6" fill="#008000"/>
<circle cx="477.1" cy="141.8" r="3.6" fill="#008000"/>
<circle cx="498.2" cy="118.8" r="3.6" fill="#008000"/>
<circle cx="467.8" cy="119.6" r="3.6" fill="#008000"/>
<circle cx="511.2" cy="83.6" r="3.6" fill="#008000"/>
<circle cx="488.3" cy="230.5" r="3.6" fill="#008000"/>
<circle cx="501.3" cy="234.9" r="3.6" fill="#008000"/>
<circle cx="466.7" cy="142.4" r="3.6" fill="#008000"/>
<circle cx="522.6" cy="211.2" r="3.6" fill="#008000"/>
<circle cx="481.9" cy="104.6" r="3.6" fill="#008000"/>
<circle cx="470.0" cy="254.0" r="3.6" fill="#008000"/>
<circle cx="468.4" cy="243.4" r="3.6" fill="#008000"/>
<circle cx="483.0" cy="84.9" r="3.6" fill="#008000"/>
<circle cx="541.7" cy="225.3" r="3.6" fill="#008000"/>
<circle cx="512.1" cy="142.3" r="3.6" fill="#008000"/>
<circle cx="525.1" cy="176.6" r="3.6" fill="#008000"/>
<circle cx="479.0" cy="148.2" r="3.6" fill="#008000"/>
<circle cx="479.8" cy="226.1" r="3.6" fill="#008000"/>
<circle cx="486.0" cy="109.6" r="3.6" fill="#008000"/>
<circle cx="508.0" cy="206.0" r="3.6" fill="#008000"/>
<circle cx="500.3" cy="218.9" r="3.6" fill="#008000"/>
<circle cx="477.3" cy="181.9" r="3.6" fill="#008000"/>
<circle cx="491.1" cy="244.5" r="3.6" fill="#008000"/>
<circle cx="538.5" cy="210.8" r="3.6" fill="#008000"/>
<circle cx="545.1" cy="84.4" r="3.6" fill="#008000"/>
<circle cx="488.6" cy="113.6" r="3.6" fill="#008000"/>
<circle cx="526.1" cy="166.2" r="3.6" fill="#008000"/>
<circle cx="531.8" cy="138.9" r="3.6" fill="#008000"/>
<circle cx="494.6" cy="93.0" r="3.6" fill="#008000"/>
<circle cx="479.2" cy="89.1" r="3.6" fill="#008000"/>
<circle cx="500.6" cy="132.0" r="3.6" fill="#008000"/>
<circle cx="479.1" cy="185.1" r="3.6" fill="#008000"/>
<circle cx="500.2" cy="210.2" r="3.6" fill="#008000"/>
<circle cx="472.9" cy="239.1" r="3.6" fill="#008000"/>
<circle cx="491.7" cy="119.2" r="3.6" fill="#008000"/>
<circle cx="480.8" cy="234.5" r="3.6" fill="#008000"/>
<circle cx="540.3" cy="74.4" r="3.6" fill="#008000"/>
<circle cx="533.2" cy="114.3" r="3.6" fill="#008000"/>
<circle cx="525.5" cy="80.8" r="3.6" fill="#008000"/>
<circle cx="468.3" cy="147.0" r="3.6" fill="#008000"/>
<circle cx="489.4" cy="219.0" r="3.6" fill="#008000"/>
<circle cx="494.4" cy="162.2" r="3.6" fill="#008000"/>
<circle cx="524.0" cy="70.5" r="3.6" fill="#008000"/>
<circle cx="509.9" cy="133.2" r="3.6" fill="#008000"/>
<circle cx="512.2" cy="153.2" r="3.6" fill="#008000"/>
<circle cx="529.7" cy="89.1" r="3.6" fill="#008000"/>
<circle cx="496.0" cy="108.7" r="3.6" fill="#008000"/>
<circle cx="462.5" cy="206.4" r="3.6" fill="#008000"/>
<circle cx="481.7" cy="151.6" r="3.6" fill="#008000"/>
<circle cx="531.6" cy="128.2" r="3.6" fill="#008000"/>
<circle cx="531.1" cy="68.8" r="3.6" fill="#008000"/>
<circle cx="482.4" cy="112.8" r="3.6" fill="#008000"/>
<circle cx="502.3" cy="100.2" r="3.6" fill="#008000"/>
<circle cx="485.0" cy="176.1" r="3.6" fill="#008000"/>
<circle cx="460.7" cy="200.1" r="3.6" fill="#008000"/>
<circle cx="494.6" cy="220.2" r="3.6" fill="#008000"/>
<circle cx="534.6" cy="151.5" r="3.6" fill="#008000"/>
<circle cx="530.5" cy="157.6" r="3.6" fill="#008000"/>
<circle cx="504.7" cy="124.0" r="3.6" fill="#008000"/>
<circle cx="494.3" cy="153.6" r="3.6" fill="#008000"/>
<circle cx="472.5" cy="93.6" r="3.6" fill="#008000"/>
<circle cx="529.7" cy="97.8" r="3.6" fill="#008000"/>
<circle cx="504.7" cy="201.5" r="3.6" fill="#008000"/>
<circle cx="465.2" cy="114.1" r="3.6" fill="#008000"/>
<circle cx="525.2" cy="157.6" r="3.6" fill="#008000"/>
<circle cx="521.9" cy="134.0" r="3.6" fill="#008000"/>
<circle cx="472.0" cy="122.3" r="3.6" fill="#008000"/>
<circle cx="501.7" cy="148.6" r="3.6" fill="#008000"/>
<circle cx="470.7" cy="151.3" r="3.6" fill="#008000"/>
<circle cx="528.8" cy="230.9" r="3.6" fill="#008000"/>
<circle cx="486.7" cy="148.1" r="3.6" fill="#008000"/>
<circle cx="516.1" cy="220.2" r="3.6" fill="#008000"/>
<circle cx="465.6" cy="220.0" r="3.6" fill="#008000"/>
<circle cx="502.7" cy="137.2" r="3.6" fill="#008000"/>
<circle cx="525.1" cy="109.9" r="3.6" fill="#008000"/>
<circle cx="528.0" cy="190.1" r="3.6" fill="#008000"/>
<circle cx="513.3" cy="175.7" r="3.6" fill="#008000"/>
<circle cx="529.0" cy="83.5" r="3.6" fill="#008000"/>
<circle cx="511.9" cy="75.8" r="3.6" fill="#008000"/>
<circle cx="486.2" cy="129.3" r="3.6" fill="#008000"/>
<circle cx="532.9" cy="133.3" r="3.6" fill="#008000"/>
<circle cx="474.6" cy="117.1" r="3.6" fill="#008000"/>
<circle cx="476.3" cy="191.1" r="3.6" fill="#008000"/>
<circle cx="479.5" cy="215.7" r="3.6" fill="#008000"/>
<circle cx="499.8" cy="83.6" r="3.6" fill="#008000"/>
<circle cx="526.5" cy="151.7" r="3.6" fill="#008000"/>
<circle cx="505.1" cy="93.2" r="3.6" fill="#008000"/>
<circle cx="513.9" cy="225.5" r="3.6" fill="#008000"/>
<circle cx="500.2" cy="200.1" r="3.6" fill="#008000"/>
<circle cx="506.9" cy="196.3" r="3.6" fill="#008000"/>
<circle cx="471.0" cy="191.5" r="3.6" fill="#008000"/>
<circle cx="468.5" cy="166.7" r="3.6" fill="#008000"/>
<circle cx="499.6" cy="103.5" r="3.6" fill="#008000"/>
<circle cx="486.8" cy="243.3" r="3.6" fill="#008000"/>
<circle cx="489.6" cy="192.2" r="3.6" fill="#008000"/>
<circle cx="495.9" cy="206.6" r="3.6" fill="#008000"/>
<circle cx="479.6" cy="128.2" r="3.6" fill="#008000"/>
<circle cx="499.7" cy="171.4" r="3.6" fill="#008000"/>
<circle cx="505.2" cy="180.6" r="3.6" fill="#008000"/>
<circle cx="490.3" cy="127.2" r="3.6" fill="#008000"/>
<circle cx="506.6" cy="151.2" r="3.6" fill="#008000"/>
<circle cx="530.0" cy="186.4" r="3.6" fill="#008000"/>
<circle cx="521.0" cy="141.3" r="3.6" fill="#008000"/>
<circle cx="512.6" cy="90.3" r="3.6" fill="#008000"/>
<circle cx="507.3" cy="186.1" r="3.6" fill="#008000"/>
<circle cx="482.4" cy="162.9" r="3.6" fill="#008000"/>
<circle cx="546.1" cy="100.1" r="3.6" fill="#008000"/>
<circle cx="499.1" cy="239.5" r="3.6" fill="#008000"/>
<circle cx="521.3" cy="162.4" r="3.6" fill="#008000"/>
<circle cx="523.3" cy="172.2" r="3.6" fill="#008000"/>
<circle cx="491.1" cy="214.9" r="3.6" fill="#008000"/>
<circle cx="527.1" cy="124.2" r="3.6" fill="#008000"/>
<circle cx="505.7" cy="211.2" r="3.6" fill="#008000"/>
<circle cx="482.8" cy="228.8" r="3.6" fill="#008000"/>
<circle cx="497.6" cy="195.6" r="3.6" fill="#008000"/>
<circle cx="491.9" cy="186.1" r="3.6" fill="#008000"/>
<circle cx="507.0" cy="176.9" r="3.6" fill="#008000"/>
<circle cx="477.7" cy="172.9" r="3.6" fill="#008000"/>
<circle cx="488.9" cy="199.8" r="3.6" fill="#008000"/>
<circle cx="500.7" cy="228.9" r="3.6" fill="#008000"/>
<circle cx="521.8" cy="124.1" r="3.6" fill="#008000"/>
<circle cx="520.0" cy="156.9" r="3.6" fill="#008000"/>
<circle cx="533.6" cy="103.9" r="3.6" fill="#008000"/>
<circle cx="513.3" cy="214.9" r="3.6" fill="#008000"/>
<circle cx="513.4" cy="118.4" r="3.6" fill="#008000"/>
<circle cx="471.4" cy="219.6" r="3.6" fill="#008000"/>
<circle cx="492.3" cy="176.7" r="3.6" fill="#008000"/>
<circle cx="511.0" cy="240.8" r="3.6" fill="#008000"/>
<circle cx="463.3" cy="196.6" r="3.6" fill="#008000"/>
<circle cx="474.7" cy="214.7" r="3.6" fill="#008000"/>
<circle cx="535.8" cy="118.3" r="3.6" fill="#008000"/>
<circle cx="522.7" cy="93.1" r="3.6" fill="#008000"/>
<circle cx="516.9" cy="104.7" r="3.6" fill="#008000"/>
<circle cx="533.0" cy="83.3" r="3.6" fill="#008000"/>
<circle cx="483.8" cy="141.4" r="3.6" fill="#008000"/>
<circle cx="509.4" cy="118.4" r="3.6" fill="#008000"/>
<circle cx="511.9" cy="103.9" r="3.6" fill="#008000"/>
<circle cx="501.1" cy="160.9" r="3.6" fill="#008000"/>
<circle cx="521.5" cy="83.8" r="3.6" fill="#008000"/>
<circle cx="510.2" cy="182.6" r="3.6" fill="#008000"/>
<circle cx="472.7" cy="170.7" r="3.6" fill="#008000"/>
<circle cx="468.1" cy="195.7" r="3.6" fill="#008000"/>
<circle cx="507.1" cy="224.5" r="3.6" fill="#008000"/>
<circle cx="495.2" cy="209.3" r="3.6" fill="#008000"/>
<circle cx="528.3" cy="141.9" r="3.6" fill="#008000"/>
<circle cx="487.8" cy="123.0" r="3.6" fill="#008000"/>
<circle cx="467.5" cy="122.8" r="3.6" fill="#008000"/>
<circle cx="467.0" cy="133.1" r="3.6" fill="#008000"/>
<circle cx="511.1" cy="230.4" r="3.6" fill="#008000"/>
<circle cx="517.3" cy="192.1" r="3.6" fill="#008000"/>
<circle cx="487.3" cy="180.3" r="3.6" fill="#008000"/>
<circle cx="491.5" cy="138.3" r="3.6" fill="#008000"/>
<circle cx="474.6" cy="226.3" r="3.6" fill="#008000"/>
<circle cx="475.8" cy="146.7" r="3.6" fill="#008000"/>
<circle cx="496.8" cy="187.2" r="3.6" fill="#008000"/>
<circle cx="506.9" cy="89.2" r="3.6" fill="#008000"/>
<circle cx="539.4" cy="93.7" r="3.6" fill="#008000"/>
<circle cx="518.2" cy="99.2" r="3.6" fill="#008000"/>
<circle cx="520.2" cy="186.8" r="3.6" fill="#008000"/>
<circle cx="524.5" cy="127.2" r="3.6" fill="#008000"/>
<circle cx="481.2" cy="204.4" r="3.6" fill="#008000"/>
<circle cx="505.2" cy="172.8" r="3.6" fill="#008000"/>
<circle cx="534.9" cy="216.3" r="3.6" fill="#008000"/>
<circle cx="490.2" cy="148.2" r="3.6" fill="#008000"/>
<circle cx="470.9" cy="182.5" r="3.6" fill="#008000"/>
<circle cx="516.1" cy="230.2" r="3.6" fill="#008000"/>
<circle cx="469.7" cy="129.2" r="3.6" fill="#008000"/>
<circle cx="473.9" cy="98.7" r="3.6" fill="#008000"/>
<circle cx="466.3" cy="103.8" r="3.6" fill="#008000"/>
<circle cx="522.4" cy="190.6" r="3.6" fill="#008000"/>
<circle cx="489.2" cy="103.4" r="3.6" fill="#008000"/>
<circle cx="491.4" cy="223.9" r="3.6" fill="#008000"/>
<circle cx="497.3" cy="166.9" r="3.6" fill="#008000"/>
<circle cx="482.4" cy="94.4" r="3.6" fill="#008000"/>
<circle cx="543.9" cy="103.6" r="3.6" fill="#008000"/>
<circle cx="465.6" cy="162.4" r="3.6" fill="#008000"/>
<circle cx="541.9" cy="88.1" r="3.6" fill="#008000"/>
<circle cx="509.2" cy="216.5" r="3.6" fill="#008000"/>
<circle cx="503.9" cy="158.0" r="3.6" fill="#008000"/>
<circle cx="521.8" cy="231.1" r="3.6" fill="#008000"/>
<circle cx="485.3" cy="225.9" r="3.6" fill="#008000"/>
<circle cx="510.2" cy="161.1" r="3.6" fill="#008000"/>
<circle cx="542.1" cy="108.4" r="3.6" fill="#008000"/>
<circle cx="518.8" cy="194.9" r="3.6" fill="#008000"/>
<circle cx="504.7" cy="142.3" r="3.6" fill="#008000"/>
<circle cx="481.7" cy="191.8" r="3.6" fill="#008000"/>
<circle cx="491.9" cy="109.4" r="3.6" fill="#008000"/>
<circle cx="474.7" cy="109.2" r="3.6" fill="#008000"/>
<circle cx="531.3" cy="147.4" r="3.6" fill="#008000"/>
<circle cx="497.5" cy="157.7" r="3.6" fill="#008000"/>
<circle cx="478.3" cy="84.7" r="3.6" fill="#008000"/>
<circle cx="475.0" cy="167.4" r="3.6" fill="#008000"/>
<circle cx="461.7" cy="112.4" r="3.6" fill="#008000"/>
<circle cx="520.6" cy="136.8" r="3.6" fill="#008000"/>
<circle cx="468.7" cy="97.8" r="3.6" fill="#008000"/>
<circle cx="487.4" cy="239.6" r="3.6" fill="#008000"/>
<circle cx="525.7" cy="205.6" r="3.6" fill="#008000"/>
<circle cx="540.1" cy="219.6" r="3.6" fill="#008000"/>
<circle cx="521.8" cy="114.0" r="3.6" fill="#008000"/>
<circle cx="528.8" cy="131.7" r="3.6" fill="#008000"/>
<circle cx="515.0" cy="205.9" r="3.6" fill="#008000"/>
<circle cx="531.4" cy="118.9" r="3.6" fill="#008000"/>
<circle cx="499.9" cy="153.2" r="3.6" fill="#008000"/>
<circle cx="525.0" cy="147.1" r="3.6" fill="#008000"/>
<circle cx="484.3" cy="200.6" r="3.6" fill="#008000"/>
<circle cx="463.3" cy="175.5" r="3.6" fill="#008000"/>
<circle cx="510.9" cy="191.8" r="3.6" fill="#008000"/>
<circle cx="502.5" cy="117.6" r="3.6" fill="#008000"/>
<circle cx="529.5" cy="176.2" r="3.6" fill="#008000"/>
<circle cx="463.9" cy="138.7" r="3.6" fill="#008000"/>
<circle cx="502.8" cy="80.7" r="3.6" fill="#008000"/>
<circle cx="497.1" cy="226.1" r="3.6" fill="#008000"/>
<circle cx="509.1" cy="98.9" r="3.6" fill="#008000"/>
<circle cx="514.1" cy="155.9" r="3.6" fill="#008000"/>
<circle cx="489.6" cy="131.7" r="3.6" fill="#008000"/>
<circle cx="488.7" cy="152.6" r="3.6" fill="#008000"/>
<circle cx="498.6" cy="180.7" r="3.6" fill="#008000"/>
<circle cx="507.2" cy="80.2" r="3.6" fill="#008000"/>
<circle cx="513.2" cy="167.1" r="3.6" fill="#008000"/>
<circle cx="533.2" cy="210.0" r="3.6" fill="#008000"/>
<circle cx="473.4" cy="196.1" r="3.6" fill="#008000"/>
<circle cx="480.1" cy="136.5" r="3.6" fill="#008000"/>
<circle cx="464.0" cy="156.5" r="3.6" fill="#008000"/>
<circle cx="514.3" cy="128.6" r="3.6" fill="#008000"/>
<circle cx="480.0" cy="196.4" r="3.6" fill="#008000"/>
<circle cx="533.7" cy="93.8" r="3.6" fill="#008000"/>
<circle cx="498.1" cy="128.3" r="3.6" fill="#008000"/>
<circle cx="484.0" cy="238.5" r="3.6" fill="#008000"/>
<circle cx="518.4" cy="146.9" r="3.6" fill="#008000"/>
<circle cx="470.7" cy="162.8" r="3.6" fill="#008000"/>
<circle cx="541.4" cy="80.6" r="3.6" fill="#008000"/>
<circle cx="505.7" cy="75.0" r="3.6" fill="#008000"/>
<circle cx="528.4" cy="93.6" r="3.6" fill="#008000"/>
<circle cx="477.1" cy="104.1" r="3.6" fill="#008000"/>
<circle cx="516.7" cy="95.1" r="3.6" fill="#008000"/>
<circle cx="469.5" cy="107.9" r="3.6" fill="#008000"/>
<circle cx="497.2" cy="137.4" r="3.6" fill="#008000"/>
<circle cx="513.1" cy="235.3" r="3.6" fill="#008000"/>
<circle cx="486.2" cy="138.1" r="3.6" fill="#008000"/>
<circle cx="520.7" cy="175.7" r="3.6" fill="#008000"/>
<circle cx="481.8" cy="132.4" r="3.6" fill="#008000"/>
<circle cx="486.9" cy="89.7" r="3.6" fill="#008000"/>
<circle cx="511.4" cy="172.4" r="3.6" fill="#008000"/>
<circle cx="534.0" cy="122.8" r="3.6" fill="#008000"/>
<circle cx="466.8" cy="151.1" r="3.6" fill="#008000"/>
<circle cx="494.6" cy="104.0" r="3.6" fill="#008000"/>
<circle cx="507.5" cy="234.6" r="3.6" fill="#008000"/>
<circle cx="496.1" cy="214.5" r="3.6" fill="#008000"/>
<circle cx="481.1" cy="117.2" r="3.6" fill="#008000"/>
<circle cx="514.5" cy="187.2" r="3.6" fill="#008000"/>
<circle cx="477.9" cy="124.3" r="3.6" fill="#008000"/>
<circle cx="529.8" cy="108.6" r="3.6" fill="#008000"/>
<circle cx="503.4" cy="166.2" r="3.6" fill="#008000"/>
<circle cx="530.0" cy="196.0" r="3.6" fill="#008000"/>
<circle cx="479.4" cy="166.9" r="3.6" fill="#008000"/>
<circle cx="477.8" cy="230.8" r="3.6" fill="#008000"/>
<circle cx="517.7" cy="112.8" r="3.6" fill="#008000"/>
<circle cx="470.6" cy="229.3" r="3.6" fill="#008000"/>
<circle cx="515.0" cy="108.7" r="3.6" fill="#008000"/>
<circle cx="495.1" cy="170.6" r="3.6" fill="#008000"/>
<circle cx="527.1" cy="201.5" r="3.6" fill="#008000"/>
<circle cx="517.4" cy="199.7" r="3.6" fill="#008000"/>
<circle cx="486.9" cy="234.2" r="3.6" fill="#008000"/>
<circle cx="470.3" cy="137.9" r="3.6" fill="#008000"/>
<circle cx="459.4" cy="131.9" r="3.6" fill="#008000"/>
<circle cx="496.8" cy="147.3" r="3.6" fill="#008000"/>
<circle cx="473.7" cy="128.6" r="3.6" fill="#008000"/>
<circle cx="514.2" cy="80.6" r="3.6" fill="#008000"/>
<circle cx="540.8" cy="214.7" r="3.6" fill="#008000"/>
<circle cx="535.0" cy="99.5" r="3.6" fill="#008000"/>
<circle cx="518.9" cy="167.0" r="3.6" fill="#008000"/>
<circle cx="503.7" cy="185.3" r="3.6" fill="#008000"/>
<circle cx="476.1" cy="132.4" r="3.6" fill="#008000"/>
<circle cx="514.7" cy="195.4" r="3.6" fill="#008000"/>
<circle cx="501.8" cy="225.8" r="3.6" fill="#008000"/>
<circle cx="520.5" cy="128.9" r="3.6" fill="#008000"/>
<circle cx="517.3" cy="134.2" r="3.6" fill="#008000"/>
<circle cx="483.9" cy="171.9" r="3.6" fill="#008000"/>
<circle cx="478.0" cy="112.2" r="3.6" fill="#008000"/>
<circle cx="470.5" cy="132.3" r="3.6" fill="#008000"/>
<circle cx="523.0" cy="75.2" r="3.6" fill="#008000"/>
<circle cx="493.9" cy="230.7" r="3.6" fill="#008000"/>
<circle cx="506.4" cy="221.2" r="3.6" fill="#008000"/>
<circle cx="537.1" cy="70.5" r="3.6" fill="#008000"/>
<circle cx="526.6" cy="114.8" r="3.6" fill="#008000"/>
<circle cx="533.4" cy="218.9" r="3.6" fill="#008000"/>
<circle cx="483.2" cy="211.5" r="3.6" fill="#008000"/>
<circle cx="491.4" cy="158.4" r="3.6" fill="#008000"/>
<circle cx="467.3" cy="181.8" r="3.6" fill="#008000"/>
<circle cx="522.8" cy="180.6" r="3.6" fill="#008000"/>
<circle cx="502.2" cy="216.2" r="3.6" fill="#008000"/>
<circle cx="524.3" cy="195.0" r="3.6" fill="#008000"/>
<circle cx="468.2" cy="216.3" r="3.6" fill="#008000"/>
<circle cx="508.1" cy="129.3" r="3.6" fill="#008000"/>
<circle cx="491.4" cy="79.6" r="3.6" fill="#008000"/>
<circle cx="494.2" cy="133.2" r="3.6" fill="#008000"/>
<circle cx="510.1" cy="122.1" r="3.6" fill="#008000"/>
<circle cx="539.0" cy="112.4" r="3.6" fill="#008000"/>
<circle cx="543.9" cy="93.2" r="3.6" fill="#008000"/>
<circle cx="464.1" cy="117.7" r="3.6" fill="#008000"/>
<circle cx="478.6" cy="152.4" r="3.6" fill="#008000"/>
<circle cx="494.4" cy="122.2" r="3.6" fill="#008000"/>
<circle cx="505.8" cy="102.9" r="3.6" fill="#008000"/>
<circle cx="495.1" cy="85.1" r="3.6" fill="#008000"/>
<circle cx="512.9" cy="148.5" r="3.6" fill="#008000"/>
<circle cx="551.3" cy="95.0" r="3.6" fill="#008000"/>
<circle cx="528.2" cy="211.5" r="3.6" fill="#008000"/>
<circle cx="506.6" cy="85.2" r="3.6" fill="#008000"/>
<circle cx="528.8" cy="73.5" r="3.6" fill="#008000"/>
<circle cx="480.0" cy="244.9" r="3.6" fill="#008000"/>
<circle cx="509.4" cy="109.0" r="3.6" fill="#008000"/>
<circle cx="497.6" cy="177.4" r="3.6" fill="#008000"/>
<circle cx="527.0" cy="180.6" r="3.6" fill="#008000"/>
<circle cx="517.0" cy="143.5" r="3.6" fill="#008000"/>
<circle cx="517.8" cy="151.6" r="3.6" fill="#008000"/>
<circle cx="525.3" cy="137.5" r="3.6" fill="#008000"/>
<circle cx="465.0" cy="201.5" r="3.6" fill="#008000"/>
<circle cx="519.3" cy="109.1" r="3.6" fill="#008000"/>
<circle cx="477.0" cy="239.8" r="3.6" fill="#008000"/>
<circle cx="489.2" cy="94.6" r="3.6" fill="#008000"/>
<circle cx="527.7" cy="221.4" r="3.6" fill="#008000"/>
<circle cx="550.2" cy="84.9" r="3.6" fill="#008000"/>
<circle cx="473.9" cy="89.6" r="3.6" fill="#008000"/>
<circle cx="464.1" cy="254.7" r="3.6" fill="#008000"/>
<circle cx="540.2" cy="103.4" r="3.6" fill="#008000"/>
<circle cx="536.9" cy="128.4" r="3.6" fill="#008000"/>
<circle cx="510.0" cy="219.9" r="3.6" fill="#008000"/>
<circle cx="520.1" cy="235.2" r="3.6" fill="#008000"/>
<circle cx="478.5" cy="162.7" r="3.6" fill="#008000"/>
<circle cx="496.1" cy="99.3" r="3.6" fill="#008000"/>
<circle cx="500.6" cy="124.0" r="3.6" fill="#008000"/>
<circle cx="463.8" cy="127.8" r="3.6" fill="#008000"/>
<circle cx="517.8" cy="122.8" r="3.6" fill="#008000"/>
<circle cx="518.9" cy="117.4" r="3.6" fill="#008000"/>
<circle cx="474.9" cy="138.6" r="3.6" fill="#008000"/>
<circle cx="501.8" cy="89.7" r="3.6" fill="#008000"/>
<circle cx="536.4" cy="88.7" r="3.6" fill="#008000"/>
<circle cx="475.2" cy="233.8" r="3.6" fill="#008000"/>
<circle cx="476.5" cy="201.7" r="3.6" fill="#008000"/>
<circle cx="520.5" cy="225.3" r="3.6" fill="#008000"/>
<circle cx="503.0" cy="194.9" r="3.6" fill="#008000"/>
<circle cx="506.3" cy="133.7" r="3.6" fill="#008000"/>
<circle cx="484.5" cy="165.9" r="3.6" fill="#008000"/>
<circle cx="520.2" cy="205.6" r="3.6" fill="#008000"/>
<circle cx="497.9" cy="89.0" r="3.6" fill="#008000"/>
<circle cx="488.8" cy="211.6" r="3.6" fill="#008000"/>
<circle cx="477.0" cy="93.0" r="3.6" fill="#008000"/>
<circle cx="508.7" cy="148.2" r="3.6" fill="#008000"/>
<circle cx="490.3" cy="205.9" r="3.6" fill="#008000"/>
<circle cx="531.8" cy="215.1" r="3.6" fill="#008000"/>
<circle cx="493.2" cy="240.8" r="3.6" fill="#008000"/>
<circle cx="510.7" cy="95.3" r="3.6" fill="#008000"/>
<circle cx="477.5" cy="249.4" r="3.6" fill="#008000"/>
<circle cx="501.4" cy="205.3" r="3.6" fill="#008000"/>
<circle cx="516.3" cy="162.4" r="3.6" fill="#008000"/>
<circle cx="520.4" cy="216.1" r="3.6" fill="#008000"/>
<circle cx="533.9" cy="74.6" r="3.6" fill="#008000"/>
<circle cx="502.6" cy="109.5" r="3.6" fill="#008000"/>
<circle cx="527.6" cy="173.0" r="3.6" fill="#008000"/>
<circle cx="519.2" cy="69.9" r="3.6" fill="#008000"/>
<circle cx="485.6" cy="196.8" r="3.6" fill="#008000"/>
<circle cx="489.0" cy="141.3" r="3.6" fill="#008000"/>
<circle cx="521.1" cy="152.8" r="3.6" fill="#008000"/>
<circle cx="484.0" cy="122.1" r="3.6" fill="#008000"/>
<circle cx="469.7" cy="186.8" r="3.6" fill="#008000"/>
<circle cx="487.5" cy="170.9" r="3.6" fill="#008000"/>
<circle cx="532.1" cy="190.3" r="3.6" fill="#008000"/>
<circle cx="472.2" cy="249.9" r="3.6" fill="#008000"/>
<circle cx="511.0" cy="201.6" r="3.6" fill="#008000"/>
<circle cx="469.5" cy="89.5" r="3.6" fill="#008000"/>
<circle cx="466.5" cy="171.1" r="3.6" fill="#008000"/>
<circle cx="483.4" cy="182.0" r="3.6" fill="#008000"/>
<circle cx="464.2" cy="186.3" r="3.6" fill="#008000"/>
<circle cx="485.1" cy="187.1" r="3.6" fill="#008000"/>
<circle cx="532.6" cy="170.6" r="3.6" fill="#008000"/>
<circle cx="506.1" cy="161.6" r="3.6" fill="#008000"/>
<circle cx="490.5" cy="90.5" r="3.6" fill="#008000"/>
<circle cx="535.6" cy="226.1" r="3.6" fill="#008000"/>
<circle cx="521.3" cy="220.5" r="3.6" fill="#008000"/>
<circle cx="498.1" cy="80.0" r="3.6" fill="#008000"/>
<circle cx="539.4" cy="83.5" r="3.6" fill="#008000"/>
<circle cx="533.1" cy="64.9" r="3.6" fill="#008000"/>
<circle cx="490.7" cy="235.2" r="3.6" fill="#008000"/>
<circle cx="527.0" cy="163.2" r="3.6" fill="#008000"/>
<circle cx="467.4" cy="94.1" r="3.6" fill="#008000"/>
<circle cx="502.1" cy="127.7" r="3.6" fill="#008000"/>
<circle cx="462.9" cy="167.3" r="3.6" fill="#008000"/>
<circle cx="474.5" cy="185.5" r="3.6" fill="#008000"/>
<circle cx="542.8" cy="97.8" r="3.6" fill="#008000"/>
<circle cx="508.3" cy="165.5" r="3.6" fill="#008000"/>
<circle cx="486.1" cy="99.3" r="3.6" fill="#008000"/>
<circle cx="521.5" cy="104.4" r="3.6" fill="#008000"/>
<circle cx="524.5" cy="90.5" r="3.6" fill="#008000"/>
<circle cx="521.8" cy="199.7" r="3.6" fill="#008000"/>
<circle cx="517.8" cy="209.8" r="3.6" fill="#008000"/>
<circle cx="547.3" cy="90.5" r="3.6" fill="#008000"/>
<circle cx="510.6" cy="210.2" r="3.6" fill="#008000"/>
<circle cx="508.6" cy="156.1" r="3.6" fill="#008000"/>
<circle cx="515.8" cy="74.4" r="3.6" fill="#008000"/>
<circle cx="475.3" cy="158.1" r="3.6" fill="#008000"/>
<circle cx="513.1" cy="98.6" r="3.6" fill="#008000"/>
<circle cx="531.1" cy="78.3" r="3.6" fill="#008000"/>
<circle cx="486.1" cy="118.7" r="3.6" fill="#008000"/>
<circle cx="533.0" cy="142.1" r="3.6" fill="#008000"/>
<circle cx="501.7" cy="176.3" r="3.6" fill="#008000"/>
<circle cx="465.0" cy="190.7" r="3.6" fill="#008000"/>
<circle cx="515.6" cy="171.9" r="3.6" fill="#008000"/>
<circle cx="535.7" cy="80.3" r="3.6" fill="#008000"/>
<circle cx="474.3" cy="245.6" r="3.6" fill="#008000"/>
<circle cx="485.5" cy="216.4" r="3.6" fill="#008000"/>
<circle cx="535.1" cy="108.3" r="3.6" fill="#008000"/>
<circle cx="505.0" cy="113.0" r="3.6" fill="#008000"/>
<circle cx="500.3" cy="142.2" r="3.6" fill="#008000"/>
<circle cx="547.2" cy="80.2" r="3.6" fill="#008000"/>
<circle cx="469.1" cy="156.8" r="3.6" fill="#008000"/>
<circle cx="530.2" cy="225.5" r="3.6" fill="#008000"/>
<circle cx="528.9" cy="65.1" r="3.6" fill="#008000"/>
<circle cx="483.5" cy="221.3" r="3.6" fill="#008000"/>
<circle cx="480.8" cy="109.7" r="3.6" fill="#008000"/>
<circle cx="518.9" cy="88.2" r="3.6" fill="#008000"/>
<circle cx="511.3" cy="112.3" r="3.6" fill="#008000"/>
<circle cx="520.4" cy="79.8" r="3.6" fill="#008000"/>
<circle cx="493.4" cy="190.5" r="3.6" fill="#008000"/>
<circle cx="535.7" cy="204.5" r="3.6" fill="#008000"/>
<circle cx="530.0" cy="206.1" r="3.6" fill="#008000"/>
<circle cx="525.6" cy="185.7" r="3.6" fill="#008000"/>
<circle cx="546.2" cy="107.5" r="3.6" fill="#008000"/>
<circle cx="543.8" cy="221.3" r="3.6" fill="#008000"/>
<circle cx="476.7" cy="210.7" r="3.6" fill="#008000"/>
<circle cx="525.3" cy="216.3" r="3.6" fill="#008000"/>
<circle cx="469.2" cy="175.3" r="3.6" fill="#008000"/>
<circle cx="471.1" cy="143.7" r="3.6" fill="#008000"/>
<circle cx="515.1" cy="69.9" r="3.6" fill="#008000"/>
<circle cx="471.5" cy="114.4" r="3.6" fill="#008000"/>
<circle cx="476.9" cy="220.7" r="3.6" fill="#008000"/>
<circle cx="506.1" cy="239.4" r="3.6" fill="#008000"/>
<circle cx="494.4" cy="199.8" r="3.6" fill="#008000"/>
<circle cx="515.7" cy="85.1" r="3.6" fill="#008000"/>
<circle cx="512.8" cy="138.5" r="3.6" fill="#008000"/>
<circle cx="495.4" cy="182.2" r="3.6" fill="#008000"/>
<circle cx="489.5" cy="161.6" r="3.6" fill="#008000"/>
<circle cx="500.4" cy="92.9" r="3.6" fill="#008000"/>
<circle cx="480.8" cy="100.2" r="3.6" fill="#008000"/>
<circle cx="516.9" cy="181.1" r="3.6" fill="#008000"/>
<circle cx="486.2" cy="156.5" r="3.6" fill="#008000"/>
<circle cx="498.1" cy="233.6" r="3.6" fill="#008000"/>
<circle cx="471.0" cy="201.4" r="3.6" fill="#008000"/>
<circle cx="497.4" cy="243.8" r="3.6" fill="#008000"/>
<circle cx="499.3" cy="191.3" r="3.6" fill="#008000"/>
<circle cx="470.1" cy="206.1" r="3.6" fill="#008000"/>
<circle cx="500.6" cy="113.1" r="3.6" fill="#008000"/>
<circle cx="532.6" cy="200.3" r="3.6" fill="#008000"/>
<circle cx="459.4" cy="249.9" r="3.6" fill="#008000"/>
<circle cx="490.3" cy="196.5" r="3.6" fill="#008000"/>
<circle cx="506.1" cy="190.3" r="3.6" fill="#008000"/>
<circle cx="495.0" cy="143.7" r="3.6" fill="#008000"/>
<circle cx="471.9" cy="104.1" r="3.6" fill="#008000"/>
<circle cx="481.0" cy="158.2" r="3.6" fill="#008000"/>
<circle cx="505.3" cy="228.6" r="3.6" fill="#008000"/>
<circle cx="487.8" cy="84.8" r="3.6" fill="#008000"/>
<circle cx="473.5" cy="204.3" r="3.6" fill="#008000"/>
<circle cx="485.9" cy="205.2" r="3.6" fill="#008000"/>
<circle cx="480.1" cy="177.4" r="3.6" fill="#008000"/></g>
<g stroke="#000" stroke-width="1.0"><circle cx="552.3" cy="61.6" r="3.45" fill="#ff0000"/>
<circle cx="565.4" cy="50.3" r="3.45" fill="#ff0000"/>
<circle cx="565.4" cy="62.2" r="3.45" fill="#ff0000"/>
<circle cx="569.8" cy="69.0" r="3.45" fill="#ff0000"/>
<circle cx="579.4" cy="54.6" r="3.45" fill="#ff0000"/>
<circle cx="574.5" cy="76.4" r="3.45" fill="#ff0000"/>
<circle cx="560.7" cy="78.5" r="3.45" fill="#ff0000"/>
<circle cx="579.1" cy="79.1" r="3.45" fill="#ff0000"/>
<circle cx="595.8" cy="64.1" r="3.45" fill="#ff0000"/>
<circle cx="610.4" cy="67.9" r="3.45" fill="#ff0000"/>
<circle cx="593.4" cy="71.1" r="3.45" fill="#ff0000"/>
<circle cx="591.1" cy="75.8" r="3.45" fill="#ff0000"/>
<circle cx="595.8" cy="73.8" r="3.45" fill="#ff0000"/>
<circle cx="595.8" cy="82.8" r="3.45" fill="#ff0000"/>
<circle cx="593.4" cy="88.0" r="3.45" fill="#ff0000"/>
<circle cx="569.8" cy="84.4" r="3.45" fill="#ff0000"/>
<circle cx="578.5" cy="81.2" r="3.45" fill="#ff0000"/>
<circle cx="574.5" cy="90.5" r="3.45" fill="#ff0000"/>
<circle cx="578.5" cy="89.1" r="3.45" fill="#ff0000"/>
<circle cx="563.4" cy="99.3" r="3.45" fill="#ff0000"/>
<circle cx="574.5" cy="99.3" r="3.45" fill="#ff0000"/>
<circle cx="553.4" cy="103.4" r="3.45" fill="#ff0000"/>
<circle cx="561.6" cy="108.6" r="3.45" fill="#ff0000"/>
<circle cx="565.7" cy="113.9" r="3.45" fill="#ff0000"/>
<circle cx="563.4" cy="116.2" r="3.45" fill="#ff0000"/>
<circle cx="547.0" cy="113.9" r="3.45" fill="#ff0000"/>
<circle cx="557.5" cy="109.8" r="3.45" fill="#ff0000"/>
<circle cx="554.0" cy="85.8" r="3.45" fill="#ff0000"/>
<circle cx="566.9" cy="90.5" r="3.45" fill="#ff0000"/>
<circle cx="591.4" cy="103.1" r="3.45" fill="#ff0000"/>
<circle cx="563.4" cy="80.5" r="3.45" fill="#ff0000"/>
<circle cx="580.3" cy="145.5" r="3.45" fill="#ff0000"/>
<circle cx="588.8" cy="142.0" r="3.45" fill="#ff0000"/>
<circle cx="566.9" cy="128.8" r="3.45" fill="#ff0000"/>
<circle cx="541.2" cy="127.0" r="3.45" fill="#ff0000"/>
<circle cx="543.5" cy="136.4" r="3.45" fill="#ff0000"/>
<circle cx="541.2" cy="142.8" r="3.45" fill="#ff0000"/>
<circle cx="542.3" cy="151.5" r="3.45" fill="#ff0000"/>
<circle cx="547.0" cy="157.4" r="3.45" fill="#ff0000"/>
<circle cx="557.5" cy="132.3" r="3.45" fill="#ff0000"/>
<circle cx="544.7" cy="121.2" r="3.45" fill="#ff0000"/>
<circle cx="547.4" cy="158.2" r="3.45" fill="#ff0000"/>
<circle cx="558.5" cy="182.9" r="3.45" fill="#ff0000"/>
<circle cx="574.7" cy="186.4" r="3.45" fill="#ff0000"/>
<circle cx="541.6" cy="151.8" r="3.45" fill="#ff0000"/>
<circle cx="522.3" cy="152.3" r="3.45" fill="#ff0000"/>
<circle cx="532.8" cy="151.2" r="3.45" fill="#ff0000"/>
<circle cx="596.1" cy="192.8" r="3.45" fill="#ff0000"/>
<circle cx="596.6" cy="203.4" r="3.45" fill="#ff0000"/>
<circle cx="580.9" cy="202.2" r="3.45" fill="#ff0000"/>
<circle cx="569.8" cy="211.5" r="3.45" fill="#ff0000"/>
<circle cx="563.4" cy="215.6" r="3.45" fill="#ff0000"/>
<circle cx="561.0" cy="217.4" r="3.45" fill="#ff0000"/>
<circle cx="546.4" cy="198.7" r="3.45" fill="#ff0000"/>
<circle cx="523.4" cy="221.7" r="3.45" fill="#ff0000"/>
<circle cx="560.7" cy="218.2" r="3.45" fill="#ff0000"/>
<circle cx="563.6" cy="216.4" r="3.45" fill="#ff0000"/>
<circle cx="570.0" cy="211.2" r="3.45" fill="#ff0000"/>
<circle cx="460.7" cy="156.9" r="3.45" fill="#ff0000"/>
<circle cx="458.0" cy="185.0" r="3.45" fill="#ff0000"/>
<circle cx="466.0" cy="176.0" r="3.45" fill="#ff0000"/>
<circle cx="469.3" cy="161.4" r="3.45" fill="#ff0000"/>
<circle cx="469.3" cy="150.0" r="3.45" fill="#ff0000"/>
<circle cx="462.8" cy="104.5" r="3.45" fill="#ff0000"/>
<circle cx="463.4" cy="109.2" r="3.45" fill="#ff0000"/>
<circle cx="459.9" cy="116.8" r="3.45" fill="#ff0000"/>
<circle cx="450.7" cy="129.6" r="3.45" fill="#ff0000"/>
<circle cx="463.4" cy="147.4" r="3.45" fill="#ff0000"/>
<circle cx="547.5" cy="58.5" r="3.45" fill="#ff0000"/>
<circle cx="545.4" cy="58.0" r="3.45" fill="#ff0000"/>
<circle cx="535.3" cy="61.4" r="3.45" fill="#ff0000"/>
<circle cx="535.3" cy="66.5" r="3.45" fill="#ff0000"/>
<circle cx="563.5" cy="99.2" r="3.45" fill="#ff0000"/>
<circle cx="562.1" cy="109.1" r="3.45" fill="#ff0000"/>
<circle cx="565.6" cy="114.0" r="3.45" fill="#ff0000"/>
<circle cx="563.5" cy="116.8" r="3.45" fill="#ff0000"/>
<circle cx="552.3" cy="103.5" r="3.45" fill="#ff0000"/>
<circle cx="548.0" cy="113.3" r="3.45" fill="#ff0000"/>
<circle cx="543.8" cy="121.0" r="3.45" fill="#ff0000"/>
<circle cx="538.9" cy="126.0" r="3.45" fill="#ff0000"/>
<circle cx="539.6" cy="133.7" r="3.45" fill="#ff0000"/>
<circle cx="543.8" cy="137.3" r="3.45" fill="#ff0000"/>
<circle cx="534.6" cy="135.8" r="3.45" fill="#ff0000"/>
<circle cx="521.3" cy="138.7" r="3.45" fill="#ff0000"/>
<circle cx="566.3" cy="128.8" r="3.45" fill="#ff0000"/>
<circle cx="557.9" cy="132.3" r="3.45" fill="#ff0000"/>
<circle cx="541.0" cy="141.5" r="3.45" fill="#ff0000"/>
<circle cx="578.3" cy="66.6" r="3.45" fill="#008000"/>
<circle cx="621.8" cy="80.8" r="3.45" fill="#008000"/>
<circle cx="548.8" cy="83.5" r="3.45" fill="#008000"/>
<circle cx="549.9" cy="91.1" r="3.45" fill="#008000"/>
<circle cx="551.7" cy="95.8" r="3.45" fill="#008000"/>
<circle cx="548.8" cy="101.6" r="3.45" fill="#008000"/>
<circle cx="549.3" cy="107.4" r="3.45" fill="#008000"/>
<circle cx="556.4" cy="113.9" r="3.45" fill="#008000"/>
<circle cx="551.7" cy="117.4" r="3.45" fill="#008000"/>
<circle cx="562.8" cy="87.6" r="3.45" fill="#008000"/>
<circle cx="560.4" cy="92.8" r="3.45" fill="#008000"/>
<circle cx="558.7" cy="85.8" r="3.45" fill="#008000"/>
<circle cx="551.7" cy="127.0" r="3.45" fill="#008000"/>
<circle cx="561.0" cy="128.2" r="3.45" fill="#008000"/>
<circle cx="561.6" cy="135.2" r="3.45" fill="#008000"/>
<circle cx="551.1" cy="137.5" r="3.45" fill="#008000"/>
<circle cx="552.8" cy="144.5" r="3.45" fill="#008000"/>
<circle cx="561.6" cy="143.9" r="3.45" fill="#008000"/>
<circle cx="554.0" cy="151.5" r="3.45" fill="#008000"/>
<circle cx="558.7" cy="150.4" r="3.45" fill="#008000"/>
<circle cx="561.6" cy="121.8" r="3.45" fill="#008000"/>
<circle cx="551.7" cy="121.8" r="3.45" fill="#008000"/>
<circle cx="558.5" cy="151.2" r="3.45" fill="#008000"/>
<circle cx="561.5" cy="152.9" r="3.45" fill="#008000"/>
<circle cx="541.6" cy="159.3" r="3.45" fill="#008000"/>
<circle cx="541.6" cy="165.2" r="3.45" fill="#008000"/>
<circle cx="542.8" cy="171.6" r="3.45" fill="#008000"/>
<circle cx="542.2" cy="179.8" r="3.45" fill="#008000"/>
<circle cx="536.4" cy="166.4" r="3.45" fill="#008000"/>
<circle cx="530.5" cy="160.5" r="3.45" fill="#008000"/>
<circle cx="527.0" cy="175.7" r="3.45" fill="#008000"/>
<circle cx="527.0" cy="182.7" r="3.45" fill="#008000"/>
<circle cx="522.3" cy="167.5" r="3.45" fill="#008000"/>
<circle cx="573.9" cy="211.5" r="3.45" fill="#008000"/>
<circle cx="575.0" cy="207.4" r="3.45" fill="#008000"/>
<circle cx="578.5" cy="209.2" r="3.45" fill="#008000"/>
<circle cx="582.0" cy="206.9" r="3.45" fill="#008000"/>
<circle cx="585.5" cy="205.1" r="3.45" fill="#008000"/>
<circle cx="589.0" cy="202.8" r="3.45" fill="#008000"/>
<circle cx="592.0" cy="200.4" r="3.45" fill="#008000"/>
<circle cx="593.1" cy="198.7" r="3.45" fill="#008000"/>
<circle cx="542.3" cy="181.2" r="3.45" fill="#008000"/>
<circle cx="541.8" cy="191.7" r="3.45" fill="#008000"/>
<circle cx="542.3" cy="202.2" r="3.45" fill="#008000"/>
<circle cx="543.5" cy="210.4" r="3.45" fill="#008000"/>
<circle cx="542.9" cy="217.4" r="3.45" fill="#008000"/>
<circle cx="541.2" cy="59.7" r="3.45" fill="#008000"/>
<circle cx="540.3" cy="64.8" r="3.45" fill="#008000"/>
<circle cx="530.6" cy="63.5" r="3.45" fill="#008000"/>
<circle cx="530.6" cy="68.6" r="3.45" fill="#008000"/>
<circle cx="522.2" cy="67.3" r="3.45" fill="#008000"/>
<circle cx="552.3" cy="127.4" r="3.45" fill="#008000"/>
<circle cx="560.0" cy="128.8" r="3.45" fill="#008000"/>
<circle cx="562.1" cy="121.0" r="3.45" fill="#008000"/>
<circle cx="555.8" cy="113.3" r="3.45" fill="#008000"/>
<circle cx="549.4" cy="106.3" r="3.45" fill="#008000"/>
<circle cx="548.7" cy="100.6" r="3.45" fill="#008000"/>
<circle cx="550.8" cy="137.3" r="3.45" fill="#008000"/>
<circle cx="561.4" cy="135.8" r="3.45" fill="#008000"/>
<circle cx="541.0" cy="114.7" r="3.45" fill="#008000"/>
<circle cx="541.7" cy="99.9" r="3.45" fill="#008000"/>
<circle cx="532.5" cy="103.5" r="3.45" fill="#008000"/>
<circle cx="553.0" cy="161.0" r="3.45" fill="#008000"/>
<circle cx="553.0" cy="164.6" r="3.45" fill="#008000"/>
<circle cx="553.0" cy="168.7" r="3.45" fill="#008000"/>
<circle cx="553.0" cy="172.0" r="3.45" fill="#008000"/>
<circle cx="553.0" cy="175.1" r="3.45" fill="#008000"/>
<circle cx="553.0" cy="178.0" r="3.45" fill="#008000"/>
<circle cx="553.0" cy="181.2" r="3.45" fill="#008000"/>
<circle cx="553.0" cy="184.5" r="3.45" fill="#008000"/>
<circle cx="553.0" cy="188.2" r="3.45" fill="#008000"/>
<circle cx="553.0" cy="191.5" r="3.45" fill="#008000"/>
<circle cx="553.0" cy="195.2" r="3.45" fill="#008000"/>
<circle cx="553.0" cy="198.0" r="3.45" fill="#008000"/>
<circle cx="553.0" cy="201.0" r="3.45" fill="#008000"/>
<circle cx="553.0" cy="204.0" r="3.45" fill="#008000"/>
<circle cx="553.0" cy="207.4" r="3.45" fill="#008000"/>
<circle cx="553.0" cy="210.5" r="3.45" fill="#008000"/>
<circle cx="553.0" cy="213.9" r="3.45" fill="#008000"/>
<circle cx="553.0" cy="218.5" r="3.45" fill="#008000"/>
<circle cx="543.2" cy="157.0" r="3.45" fill="#008000"/>
<circle cx="543.2" cy="161.0" r="3.45" fill="#008000"/>
<circle cx="543.2" cy="165.0" r="3.45" fill="#008000"/>
<circle cx="543.2" cy="169.0" r="3.45" fill="#008000"/>
<circle cx="543.2" cy="173.0" r="3.45" fill="#008000"/>
<circle cx="543.2" cy="177.0" r="3.45" fill="#008000"/>
<circle cx="543.2" cy="185.0" r="3.45" fill="#008000"/>
<circle cx="543.2" cy="189.0" r="3.45" fill="#008000"/>
<circle cx="543.2" cy="197.0" r="3.45" fill="#008000"/>
<circle cx="543.2" cy="201.0" r="3.45" fill="#008000"/>
<circle cx="543.2" cy="205.0" r="3.45" fill="#008000"/></g>
<g stroke="none"><circle cx="469.9" cy="86.7" r="2.1" fill="#ff0000"/>
<circle cx="487.5" cy="88.1" r="2.1" fill="#ff0000"/>
<circle cx="516.3" cy="68.4" r="2.1" fill="#ff0000"/>
<circle cx="513.5" cy="87.4" r="2.1" fill="#ff0000"/>
<circle cx="536.0" cy="85.3" r="2.1" fill="#ff0000"/>
<circle cx="536.0" cy="68.4" r="2.1" fill="#ff0000"/>
<circle cx="526.2" cy="71.2" r="2.1" fill="#ff0000"/>
<circle cx="463.5" cy="146.3" r="2.1" fill="#ff0000"/>
<circle cx="468.4" cy="149.9" r="2.1" fill="#ff0000"/>
<circle cx="469.1" cy="161.1" r="2.1" fill="#ff0000"/>
<circle cx="465.6" cy="176.6" r="2.1" fill="#ff0000"/>
<circle cx="519.8" cy="146.3" r="2.1" fill="#ff0000"/>
<circle cx="522.6" cy="152.0" r="2.1" fill="#ff0000"/>
<circle cx="531.0" cy="156.9" r="2.1" fill="#ff0000"/>
<circle cx="519.8" cy="162.5" r="2.1" fill="#ff0000"/>
<circle cx="495.1" cy="190.6" r="2.1" fill="#ff0000"/>
<circle cx="474.7" cy="215.3" r="2.1" fill="#ff0000"/>
<circle cx="468.4" cy="223.0" r="2.1" fill="#ff0000"/>
<circle cx="476.8" cy="223.0" r="2.1" fill="#ff0000"/>
<circle cx="495.8" cy="228.0" r="2.1" fill="#ff0000"/>
<circle cx="523.3" cy="221.6" r="2.1" fill="#ff0000"/>
<circle cx="533.2" cy="214.6" r="2.1" fill="#ff0000"/>
<circle cx="461.0" cy="103.0" r="2.1" fill="#ff0000"/>
<circle cx="464.0" cy="108.0" r="2.1" fill="#ff0000"/>
<circle cx="466.0" cy="113.0" r="2.1" fill="#ff0000"/>
<circle cx="467.0" cy="119.0" r="2.1" fill="#ff0000"/>
<circle cx="521.0" cy="132.0" r="2.1" fill="#ff0000"/>
<circle cx="526.0" cy="136.0" r="2.1" fill="#ff0000"/>
<circle cx="531.0" cy="140.0" r="2.1" fill="#ff0000"/>
<circle cx="534.0" cy="144.0" r="2.1" fill="#ff0000"/></g>
<line x1="415.30" y1="286.3" x2="415.30" y2="282.7" class="tick"/>
<line x1="415.30" y1="18.45" x2="415.30" y2="22.05" class="tick"/>
<rect x="401.36" y="293.95" width="6.9" height="1.1" fill="#000"/>
<text transform="translate(409.41,298.40) scale(1.104,1)" filter="url(#gs)" style="font-size:11.4px;font-family:'Liberation Sans', sans-serif">200</text>
<line x1="458.55" y1="286.3" x2="458.55" y2="282.7" class="tick"/>
<line x1="458.55" y1="18.45" x2="458.55" y2="22.05" class="tick"/>
<rect x="444.61" y="293.95" width="6.9" height="1.1" fill="#000"/>
<text transform="translate(452.66,298.40) scale(1.104,1)" filter="url(#gs)" style="font-size:11.4px;font-family:'Liberation Sans', sans-serif">100</text>
<line x1="501.80" y1="286.3" x2="501.80" y2="282.7" class="tick"/>
<line x1="501.80" y1="18.45" x2="501.80" y2="22.05" class="tick"/>
<text transform="translate(498.30,298.40) scale(1.104,1)" filter="url(#gs)" style="font-size:11.4px;font-family:'Liberation Sans', sans-serif">0</text>
<line x1="545.05" y1="286.3" x2="545.05" y2="282.7" class="tick"/>
<line x1="545.05" y1="18.45" x2="545.05" y2="22.05" class="tick"/>
<text transform="translate(534.55,298.40) scale(1.104,1)" filter="url(#gs)" style="font-size:11.4px;font-family:'Liberation Sans', sans-serif">100</text>
<line x1="588.30" y1="286.3" x2="588.30" y2="282.7" class="tick"/>
<line x1="588.30" y1="18.45" x2="588.30" y2="22.05" class="tick"/>
<text transform="translate(577.80,298.40) scale(1.104,1)" filter="url(#gs)" style="font-size:11.4px;font-family:'Liberation Sans', sans-serif">200</text>
<line x1="631.55" y1="286.3" x2="631.55" y2="282.7" class="tick"/>
<line x1="631.55" y1="18.45" x2="631.55" y2="22.05" class="tick"/>
<text transform="translate(621.05,298.40) scale(1.104,1)" filter="url(#gs)" style="font-size:11.4px;font-family:'Liberation Sans', sans-serif">300</text>
<line x1="674.80" y1="286.3" x2="674.80" y2="282.7" class="tick"/>
<line x1="674.80" y1="18.45" x2="674.80" y2="22.05" class="tick"/>
<text transform="translate(664.30,298.40) scale(1.104,1)" filter="url(#gs)" style="font-size:11.4px;font-family:'Liberation Sans', sans-serif">400</text>
<line x1="415.2" y1="286.60" x2="418.8" y2="286.60" class="tick"/>
<line x1="675.0" y1="286.60" x2="671.4" y2="286.60" class="tick"/>
<rect x="389.41" y="285.35" width="6.9" height="1.1" fill="#000"/>
<text transform="translate(397.46,289.80) scale(1.104,1)" filter="url(#gs)" style="font-size:11.4px;font-family:'Liberation Sans', sans-serif">30</text>
<line x1="415.2" y1="241.93" x2="418.8" y2="241.93" class="tick"/>
<line x1="675.0" y1="241.93" x2="671.4" y2="241.93" class="tick"/>
<rect x="389.41" y="240.68" width="6.9" height="1.1" fill="#000"/>
<text transform="translate(397.46,245.12) scale(1.104,1)" filter="url(#gs)" style="font-size:11.4px;font-family:'Liberation Sans', sans-serif">20</text>
<line x1="415.2" y1="197.25" x2="418.8" y2="197.25" class="tick"/>
<line x1="675.0" y1="197.25" x2="671.4" y2="197.25" class="tick"/>
<rect x="389.41" y="196.00" width="6.9" height="1.1" fill="#000"/>
<text transform="translate(397.46,200.45) scale(1.104,1)" filter="url(#gs)" style="font-size:11.4px;font-family:'Liberation Sans', sans-serif">10</text>
<line x1="415.2" y1="152.58" x2="418.8" y2="152.58" class="tick"/>
<line x1="675.0" y1="152.58" x2="671.4" y2="152.58" class="tick"/>
<text transform="translate(404.46,155.78) scale(1.104,1)" filter="url(#gs)" style="font-size:11.4px;font-family:'Liberation Sans', sans-serif">0</text>
<line x1="415.2" y1="107.90" x2="418.8" y2="107.90" class="tick"/>
<line x1="675.0" y1="107.90" x2="671.4" y2="107.90" class="tick"/>
<text transform="translate(397.46,111.10) scale(1.104,1)" filter="url(#gs)" style="font-size:11.4px;font-family:'Liberation Sans', sans-serif">10</text>
<line x1="415.2" y1="63.22" x2="418.8" y2="63.22" class="tick"/>
<line x1="675.0" y1="63.22" x2="671.4" y2="63.22" class="tick"/>
<text transform="translate(397.46,66.42) scale(1.104,1)" filter="url(#gs)" style="font-size:11.4px;font-family:'Liberation Sans', sans-serif">20</text>
<line x1="415.2" y1="18.55" x2="418.8" y2="18.55" class="tick"/>
<line x1="675.0" y1="18.55" x2="671.4" y2="18.55" class="tick"/>
<text transform="translate(397.46,21.75) scale(1.104,1)" filter="url(#gs)" style="font-size:11.4px;font-family:'Liberation Sans', sans-serif">30</text>
<rect x="415.2" y="18.45" width="259.80" height="267.85" class="spine"/>
<rect x="611.5" y="26.0" width="56.70" height="41.60" fill="#fff" stroke="#000" stroke-width="1.1"/>
<circle cx="621.1" cy="37.0" r="3.2" fill="#ff0000" stroke="#000" stroke-width="1"/>
<circle cx="630.1" cy="36.1" r="3.2" fill="#ff0000" stroke="#000" stroke-width="1"/>
<circle cx="639.6" cy="37.7" r="3.2" fill="#ff0000" stroke="#000" stroke-width="1"/>
<circle cx="621.1" cy="56.1" r="3.2" fill="#008000" stroke="#000" stroke-width="1"/>
<circle cx="630.1" cy="55.2" r="3.2" fill="#008000" stroke="#000" stroke-width="1"/>
<circle cx="639.6" cy="56.8" r="3.2" fill="#008000" stroke="#000" stroke-width="1"/>
<text transform="translate(654.30,41.30) scale(1.12,1)" filter="url(#gs)" style="font-size:13.5px;font-family:'Liberation Sans', sans-serif">0</text>
<text transform="translate(654.39,60.00) scale(1.12,1)" filter="url(#gs)" style="font-size:13.5px;font-family:'Liberation Sans', sans-serif">1</text>
<text transform="translate(461.73,13.90) scale(1.104,1)" filter="url(#gs)" style="font-size:19.3px;font-family:'Liberation Sans', sans-serif">2 component</text>
<text transform="translate(591.06,13.90) scale(0.931,1)" filter="url(#gs)" style="font-size:19.3px;font-family:'Liberation Sans', sans-serif">PCA</text>
<text transform="translate(465.75,316.00) scale(1.0716,1)" filter="url(#gs)" style="font-size:14.6px;font-family:'Liberation Sans', sans-serif">Principal Component 1</text>
<text transform="translate(380.40,231.55) rotate(-90) scale(1.0716,1)" filter="url(#gs)" style="font-size:14.6px;font-family:'Liberation Sans', sans-serif">Principal Component 2</text>
<text transform="translate(155.64,350.60) scale(1.05,1)" filter="url(#gs)" style="font-size:24px;font-family:'Liberation Serif', serif">a</text>
<text transform="translate(526.70,353.40) scale(1.0,1)" filter="url(#gs)" style="font-size:29px;font-family:'Liberation Serif', serif">b</text>
</svg></body></html>
